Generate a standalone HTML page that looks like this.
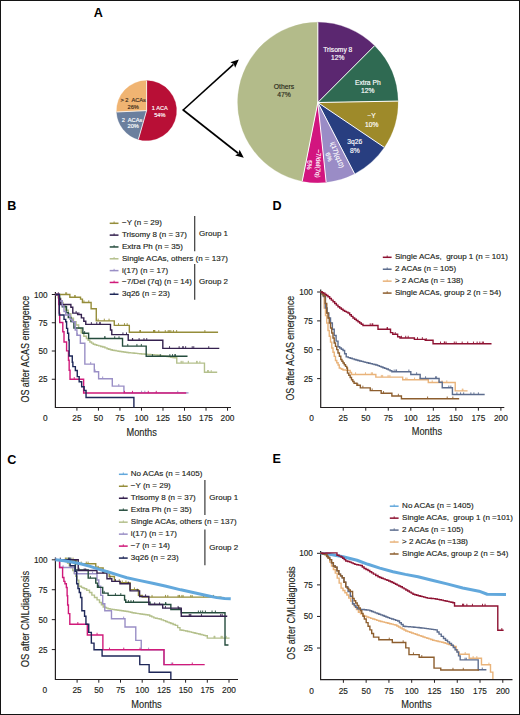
<!DOCTYPE html>
<html><head><meta charset="utf-8"><style>
html,body{margin:0;padding:0;background:#fff;}
body{width:520px;height:715px;overflow:hidden;}
svg{display:block;font-family:"Liberation Sans", sans-serif;}
text{white-space:pre;stroke:currentColor;}
</style></head><body>
<svg width="520" height="715" viewBox="0 0 520 715">
<rect x="0" y="0" width="520" height="715" fill="#fff"/>
<path d="M146.6,110.6 L146.60,80.60 A30,30 0 1 1 138.33,139.44 Z" fill="#b80f36" stroke="#b80f36" stroke-width="0.3"/>
<path d="M146.6,110.6 L138.33,139.44 A30,30 0 0 1 116.63,111.96 Z" fill="#6b7f9e" stroke="#6b7f9e" stroke-width="0.3"/>
<path d="M146.6,110.6 L116.63,111.96 A30,30 0 0 1 146.60,80.60 Z" fill="#f0b472" stroke="#f0b472" stroke-width="0.3"/>
<line x1="146.6" y1="110.6" x2="146.60" y2="80.60" stroke="#fff" stroke-width="0.8"/>
<line x1="146.6" y1="110.6" x2="138.33" y2="139.44" stroke="#fff" stroke-width="0.8"/>
<line x1="146.6" y1="110.6" x2="116.63" y2="111.96" stroke="#fff" stroke-width="0.8"/>
<text x="159.8" y="109.9" font-size="5.6" text-anchor="middle" fill="#fff" color="#fff" stroke-width="0.15" font-weight="normal" >1 ACA</text>
<text x="159.8" y="116.5" font-size="5.6" text-anchor="middle" fill="#fff" color="#fff" stroke-width="0.15" font-weight="normal" >54%</text>
<text x="133.2" y="102.1" font-size="5.7" text-anchor="middle" fill="#3a2a1a" color="#3a2a1a" stroke-width="0.15" font-weight="normal" >&gt; 2  ACAs</text>
<text x="133.2" y="108.5" font-size="5.7" text-anchor="middle" fill="#3a2a1a" color="#3a2a1a" stroke-width="0.15" font-weight="normal" >26%</text>
<text x="132" y="121.8" font-size="5.7" text-anchor="middle" fill="#fff" color="#fff" stroke-width="0.15" font-weight="normal" >2  ACAs</text>
<text x="133.2" y="128" font-size="5.7" text-anchor="middle" fill="#fff" color="#fff" stroke-width="0.15" font-weight="normal" >20%</text>
<path d="M317.8,102.5 L317.80,22.30 A80.2,80.2 0 0 1 374.51,45.79 Z" fill="#5b2770" stroke="#5b2770" stroke-width="0.3"/>
<path d="M317.8,102.5 L374.51,45.79 A80.2,80.2 0 0 1 397.99,101.10 Z" fill="#2f6a52" stroke="#2f6a52" stroke-width="0.3"/>
<path d="M317.8,102.5 L397.99,101.10 A80.2,80.2 0 0 1 384.29,147.35 Z" fill="#9e8a2a" stroke="#9e8a2a" stroke-width="0.3"/>
<path d="M317.8,102.5 L384.29,147.35 A80.2,80.2 0 0 1 354.58,173.77 Z" fill="#283e80" stroke="#283e80" stroke-width="0.3"/>
<path d="M317.8,102.5 L354.58,173.77 A80.2,80.2 0 0 1 326.18,182.26 Z" fill="#9a8cc6" stroke="#9a8cc6" stroke-width="0.3"/>
<path d="M317.8,102.5 L326.18,182.26 A80.2,80.2 0 0 1 302.22,181.17 Z" fill="#d2157f" stroke="#d2157f" stroke-width="0.3"/>
<path d="M317.8,102.5 L302.22,181.17 A80.2,80.2 0 0 1 317.80,22.30 Z" fill="#b3bb8a" stroke="#b3bb8a" stroke-width="0.3"/>
<line x1="317.8" y1="102.5" x2="317.80" y2="22.30" stroke="#fff" stroke-width="1.0"/>
<line x1="317.8" y1="102.5" x2="374.51" y2="45.79" stroke="#fff" stroke-width="1.0"/>
<line x1="317.8" y1="102.5" x2="397.99" y2="101.10" stroke="#fff" stroke-width="1.0"/>
<line x1="317.8" y1="102.5" x2="384.29" y2="147.35" stroke="#fff" stroke-width="1.0"/>
<line x1="317.8" y1="102.5" x2="354.58" y2="173.77" stroke="#fff" stroke-width="1.0"/>
<line x1="317.8" y1="102.5" x2="326.18" y2="182.26" stroke="#fff" stroke-width="1.0"/>
<line x1="317.8" y1="102.5" x2="302.22" y2="181.17" stroke="#fff" stroke-width="1.0"/>
<text x="337.8" y="51.8" font-size="6.7" text-anchor="middle" fill="#fff" color="#fff" stroke-width="0.15" font-weight="normal" >Trisomy 8</text>
<text x="337.8" y="60.1" font-size="6.7" text-anchor="middle" fill="#fff" color="#fff" stroke-width="0.15" font-weight="normal" >12%</text>
<text x="367.8" y="84.8" font-size="6.7" text-anchor="middle" fill="#fff" color="#fff" stroke-width="0.15" font-weight="normal" >Extra Ph</text>
<text x="367.8" y="93" font-size="6.7" text-anchor="middle" fill="#fff" color="#fff" stroke-width="0.15" font-weight="normal" >12%</text>
<text x="371.6" y="118.4" font-size="6.7" text-anchor="middle" fill="#fff" color="#fff" stroke-width="0.15" font-weight="normal" >−Y</text>
<text x="371.8" y="126.6" font-size="6.7" text-anchor="middle" fill="#fff" color="#fff" stroke-width="0.15" font-weight="normal" >10%</text>
<text x="354.8" y="144.4" font-size="6.7" text-anchor="middle" fill="#fff" color="#fff" stroke-width="0.15" font-weight="normal" >3q26</text>
<text x="354.8" y="153.4" font-size="6.7" text-anchor="middle" fill="#fff" color="#fff" stroke-width="0.15" font-weight="normal" >8%</text>
<text x="284" y="89.2" font-size="6.8" text-anchor="middle" fill="#2a2a1a" color="#2a2a1a" stroke-width="0.15" font-weight="normal" >Others</text>
<text x="284" y="96.9" font-size="6.8" text-anchor="middle" fill="#2a2a1a" color="#2a2a1a" stroke-width="0.15" font-weight="normal" >47%</text>
<text transform="translate(337.4,154.8) rotate(69)" font-size="6.3" text-anchor="middle" dominant-baseline="central" fill="#fff" color="#fff" stroke-width="0.15">i(17)(q10)</text>
<text transform="translate(329.2,156.8) rotate(69)" font-size="6.3" text-anchor="middle" dominant-baseline="central" fill="#fff" color="#fff" stroke-width="0.15">6%</text>
<text transform="translate(318.6,163.5) rotate(92)" font-size="6.3" text-anchor="middle" dominant-baseline="central" fill="#fff" color="#fff" stroke-width="0.15">−7/del(7q)</text>
<text transform="translate(309.8,165) rotate(92)" font-size="6.3" text-anchor="middle" dominant-baseline="central" fill="#fff" color="#fff" stroke-width="0.15">5%</text>
<line x1="183.2" y1="110" x2="233.47" y2="64.34" stroke="#000" stroke-width="1.6"/>
<path d="M238.8,59.5 L235.15,67.68 L233.84,64.00 L230.31,62.35 Z" fill="#000"/>
<line x1="183.2" y1="110" x2="238.14" y2="153.25" stroke="#000" stroke-width="1.6"/>
<path d="M243.8,157.7 L235.13,155.46 L238.54,153.56 L239.58,149.80 Z" fill="#000"/>
<polyline points="183.8,110.4 183.2,110 183.8,109.6" fill="none" stroke="#000" stroke-width="1.5"/>
<path d="M55.4,292.10 L55.4,407.5 L231,407.5" fill="none" stroke="#231f20" stroke-width="1.2"/>
<line x1="51.80" y1="379.25" x2="55.4" y2="379.25" stroke="#231f20" stroke-width="1"/>
<text x="47.60" y="382.25" font-size="8.2" text-anchor="end" fill="#231f20" color="#231f20" stroke-width="0.15" font-weight="normal" >25</text>
<line x1="51.80" y1="351.00" x2="55.4" y2="351.00" stroke="#231f20" stroke-width="1"/>
<text x="47.60" y="354.00" font-size="8.2" text-anchor="end" fill="#231f20" color="#231f20" stroke-width="0.15" font-weight="normal" >50</text>
<line x1="51.80" y1="322.75" x2="55.4" y2="322.75" stroke="#231f20" stroke-width="1"/>
<text x="47.60" y="325.75" font-size="8.2" text-anchor="end" fill="#231f20" color="#231f20" stroke-width="0.15" font-weight="normal" >75</text>
<line x1="51.80" y1="294.50" x2="55.4" y2="294.50" stroke="#231f20" stroke-width="1"/>
<text x="47.60" y="297.50" font-size="8.2" text-anchor="end" fill="#231f20" color="#231f20" stroke-width="0.15" font-weight="normal" >100</text>
<line x1="76.92" y1="407.5" x2="76.92" y2="410.70" stroke="#231f20" stroke-width="1"/>
<text x="76.92" y="421.40" font-size="8.3" text-anchor="middle" fill="#231f20" color="#231f20" stroke-width="0.15" font-weight="normal" >25</text>
<line x1="98.44" y1="407.5" x2="98.44" y2="410.70" stroke="#231f20" stroke-width="1"/>
<text x="98.44" y="421.40" font-size="8.3" text-anchor="middle" fill="#231f20" color="#231f20" stroke-width="0.15" font-weight="normal" >50</text>
<line x1="119.95" y1="407.5" x2="119.95" y2="410.70" stroke="#231f20" stroke-width="1"/>
<text x="119.95" y="421.40" font-size="8.3" text-anchor="middle" fill="#231f20" color="#231f20" stroke-width="0.15" font-weight="normal" >75</text>
<line x1="141.47" y1="407.5" x2="141.47" y2="410.70" stroke="#231f20" stroke-width="1"/>
<text x="141.47" y="421.40" font-size="8.3" text-anchor="middle" fill="#231f20" color="#231f20" stroke-width="0.15" font-weight="normal" >100</text>
<line x1="162.99" y1="407.5" x2="162.99" y2="410.70" stroke="#231f20" stroke-width="1"/>
<text x="162.99" y="421.40" font-size="8.3" text-anchor="middle" fill="#231f20" color="#231f20" stroke-width="0.15" font-weight="normal" >125</text>
<line x1="184.50" y1="407.5" x2="184.50" y2="410.70" stroke="#231f20" stroke-width="1"/>
<text x="184.50" y="421.40" font-size="8.3" text-anchor="middle" fill="#231f20" color="#231f20" stroke-width="0.15" font-weight="normal" >150</text>
<line x1="206.02" y1="407.5" x2="206.02" y2="410.70" stroke="#231f20" stroke-width="1"/>
<text x="206.02" y="421.40" font-size="8.3" text-anchor="middle" fill="#231f20" color="#231f20" stroke-width="0.15" font-weight="normal" >175</text>
<line x1="227.54" y1="407.5" x2="227.54" y2="410.70" stroke="#231f20" stroke-width="1"/>
<text x="227.54" y="421.40" font-size="8.3" text-anchor="middle" fill="#231f20" color="#231f20" stroke-width="0.15" font-weight="normal" >200</text>
<text x="45.20" y="421.40" font-size="8.3" text-anchor="middle" fill="#231f20" color="#231f20" stroke-width="0.15" font-weight="normal" >0</text>
<text x="141.65" y="435.6" font-size="10.4" text-anchor="middle" fill="#231f20" color="#231f20" stroke-width="0.15" font-weight="normal" textLength="30.3" lengthAdjust="spacingAndGlyphs">Months</text>
<text transform="translate(28.7,349.2) rotate(-90)" font-size="10.5" text-anchor="middle" fill="#231f20" color="#231f20" stroke-width="0.15" textLength="106.7" lengthAdjust="spacingAndGlyphs">OS after ACAS emergence</text>
<line x1="109.7" y1="223.30" x2="118.50" y2="223.30" stroke="#958d3a" stroke-width="1.5"/>
<line x1="114.10" y1="221.50" x2="114.10" y2="223.30" stroke="#958d3a" stroke-width="0.9"/>
<text x="122" y="225.20" font-size="8.02" text-anchor="start" fill="#231f20" color="#231f20" stroke-width="0.15" font-weight="normal" >−Y (n = 29)</text>
<line x1="109.7" y1="235.13" x2="118.50" y2="235.13" stroke="#35214f" stroke-width="1.5"/>
<line x1="114.10" y1="233.33" x2="114.10" y2="235.13" stroke="#35214f" stroke-width="0.9"/>
<text x="122" y="237.03" font-size="8.02" text-anchor="start" fill="#231f20" color="#231f20" stroke-width="0.15" font-weight="normal" >Trisomy 8 (n = 37)</text>
<line x1="109.7" y1="246.96" x2="118.50" y2="246.96" stroke="#254c3d" stroke-width="1.5"/>
<line x1="114.10" y1="245.16" x2="114.10" y2="246.96" stroke="#254c3d" stroke-width="0.9"/>
<text x="122" y="248.86" font-size="8.02" text-anchor="start" fill="#231f20" color="#231f20" stroke-width="0.15" font-weight="normal" >Extra Ph (n = 35)</text>
<line x1="109.7" y1="258.79" x2="118.50" y2="258.79" stroke="#b4c08c" stroke-width="1.5"/>
<line x1="114.10" y1="256.99" x2="114.10" y2="258.79" stroke="#b4c08c" stroke-width="0.9"/>
<text x="122" y="260.69" font-size="8.02" text-anchor="start" fill="#231f20" color="#231f20" stroke-width="0.15" font-weight="normal" >Single ACAs, others (n = 137)</text>
<line x1="109.7" y1="270.62" x2="118.50" y2="270.62" stroke="#9a8fc6" stroke-width="1.5"/>
<line x1="114.10" y1="268.82" x2="114.10" y2="270.62" stroke="#9a8fc6" stroke-width="0.9"/>
<text x="122" y="272.52" font-size="8.02" text-anchor="start" fill="#231f20" color="#231f20" stroke-width="0.15" font-weight="normal" >i(17) (n = 17)</text>
<line x1="109.7" y1="282.45" x2="118.50" y2="282.45" stroke="#d01a7a" stroke-width="1.5"/>
<line x1="114.10" y1="280.65" x2="114.10" y2="282.45" stroke="#d01a7a" stroke-width="0.9"/>
<text x="122" y="284.35" font-size="8.02" text-anchor="start" fill="#231f20" color="#231f20" stroke-width="0.15" font-weight="normal" >−7/Del (7q) (n = 14)</text>
<line x1="109.7" y1="294.28" x2="118.50" y2="294.28" stroke="#1e2758" stroke-width="1.5"/>
<line x1="114.10" y1="292.48" x2="114.10" y2="294.28" stroke="#1e2758" stroke-width="0.9"/>
<text x="122" y="296.18" font-size="8.02" text-anchor="start" fill="#231f20" color="#231f20" stroke-width="0.15" font-weight="normal" >3q26 (n = 23)</text>
<line x1="194.7" y1="216" x2="194.7" y2="251.3" stroke="#3a3a3a" stroke-width="1.2"/>
<text x="199.1" y="235.9" font-size="8.0" text-anchor="start" fill="#231f20" color="#231f20" stroke-width="0.15" font-weight="normal" >Group 1</text>
<line x1="194.7" y1="264" x2="194.7" y2="299.7" stroke="#3a3a3a" stroke-width="1.2"/>
<text x="199.1" y="283.6" font-size="8.0" text-anchor="start" fill="#231f20" color="#231f20" stroke-width="0.15" font-weight="normal" >Group 2</text>
<path d="M55.40,294.50 L57.98,294.50 L57.98,297.89 L60.56,297.89 L60.56,302.41 L63.15,302.41 L63.15,305.80 L65.73,305.80 L65.73,310.32 L68.31,310.32 L68.31,313.71 L70.89,313.71 L70.89,318.23 L73.47,318.23 L73.47,321.62 L76.06,321.62 L76.06,325.01 L78.64,325.01 L78.64,328.40 L81.22,328.40 L81.22,332.92 L83.80,332.92 L83.80,336.31 L86.39,336.31 L86.39,338.57 L88.11,338.57 L88.11,340.26 L89.83,340.26 L89.83,341.96 L91.55,341.96 L91.55,343.09 L93.27,343.09 L93.27,344.22 L94.99,344.22 L94.99,344.79 L96.71,344.79 L96.71,345.35 L98.72,345.35 L98.72,345.92 L100.73,345.92 L100.73,346.48 L102.74,346.48 L102.74,347.05 L104.89,347.05 L104.89,347.89 L107.04,347.89 L107.04,348.74 L108.76,348.74 L108.76,349.23 L110.48,349.23 L110.48,349.72 L112.21,349.72 L112.21,350.21 L114.14,350.21 L114.14,350.55 L116.08,350.55 L116.08,350.89 L118.02,350.89 L118.02,351.23 L119.95,351.23 L119.95,351.56 L121.67,351.56 L121.67,351.79 L123.40,351.79 L123.40,352.02 L125.12,352.02 L125.12,352.24 L126.84,352.24 L126.84,352.47 L128.56,352.47 L128.56,352.69 L130.40,352.69 L130.40,352.87 L132.25,352.87 L132.25,353.05 L134.09,353.05 L134.09,353.23 L135.94,353.23 L135.94,353.41 L137.78,353.41 L137.78,353.58 L139.63,353.58 L139.63,353.76 L141.47,353.76 L141.47,353.94 L143.31,353.94 L143.31,354.07 L145.16,354.07 L145.16,354.20 L147.00,354.20 L147.00,354.33 L148.85,354.33 L148.85,354.45 L150.69,354.45 L150.69,354.58 L152.54,354.58 L152.54,354.71 L154.38,354.71 L154.38,354.84 L156.10,354.84 L156.10,355.07 L157.82,355.07 L157.82,355.29 L159.54,355.29 L159.54,355.52 L161.27,355.52 L161.27,355.75 L162.99,355.75 L162.99,355.97 L165.00,355.97 L165.00,356.27 L167.00,356.27 L167.00,356.57 L169.01,356.57 L169.01,356.88 L170.73,356.88 L170.73,357.18 L172.46,357.18 L172.46,357.48 L174.18,357.48 L174.18,357.78 L176.76,357.78 L176.76,363.09 L204.47,363.09 L204.47,372.24 L217.21,372.24" fill="none" stroke="#b4c08c" stroke-width="1.4" stroke-linejoin="miter"/>
<line x1="181.82" y1="360.89" x2="181.82" y2="363.09" stroke="#b4c08c" stroke-width="0.9"/>
<line x1="188.31" y1="360.89" x2="188.31" y2="363.09" stroke="#b4c08c" stroke-width="0.9"/>
<line x1="182.97" y1="360.89" x2="182.97" y2="363.09" stroke="#b4c08c" stroke-width="0.9"/>
<line x1="181.00" y1="360.89" x2="181.00" y2="363.09" stroke="#b4c08c" stroke-width="0.9"/>
<line x1="188.43" y1="360.89" x2="188.43" y2="363.09" stroke="#b4c08c" stroke-width="0.9"/>
<line x1="199.88" y1="360.89" x2="199.88" y2="363.09" stroke="#b4c08c" stroke-width="0.9"/>
<line x1="197.28" y1="360.89" x2="197.28" y2="363.09" stroke="#b4c08c" stroke-width="0.9"/>
<line x1="196.50" y1="360.89" x2="196.50" y2="363.09" stroke="#b4c08c" stroke-width="0.9"/>
<line x1="211.22" y1="370.04" x2="211.22" y2="372.24" stroke="#b4c08c" stroke-width="0.9"/>
<line x1="208.57" y1="370.04" x2="208.57" y2="372.24" stroke="#b4c08c" stroke-width="0.9"/>
<line x1="207.51" y1="370.04" x2="207.51" y2="372.24" stroke="#b4c08c" stroke-width="0.9"/>
<path d="M55.40,294.50 L59.70,294.50 L59.70,301.28 L62.29,301.28 L62.29,306.82 L66.50,306.82 L66.50,312.58 L68.31,312.58 L68.31,317.44 L70.89,317.44 L70.89,321.62 L73.91,321.62 L73.91,327.95 L82.86,327.95 L82.86,333.26 L88.62,333.26 L88.62,338.46 L122.53,338.46 L122.53,346.14 L146.20,346.14 L146.20,356.31 L187.52,356.31" fill="none" stroke="#254c3d" stroke-width="1.4" stroke-linejoin="miter"/>
<line x1="63.96" y1="304.62" x2="63.96" y2="306.82" stroke="#254c3d" stroke-width="0.9"/>
<line x1="72.70" y1="319.42" x2="72.70" y2="321.62" stroke="#254c3d" stroke-width="0.9"/>
<line x1="74.89" y1="325.75" x2="74.89" y2="327.95" stroke="#254c3d" stroke-width="0.9"/>
<line x1="84.63" y1="331.06" x2="84.63" y2="333.26" stroke="#254c3d" stroke-width="0.9"/>
<line x1="119.03" y1="336.26" x2="119.03" y2="338.46" stroke="#254c3d" stroke-width="0.9"/>
<line x1="104.77" y1="336.26" x2="104.77" y2="338.46" stroke="#254c3d" stroke-width="0.9"/>
<line x1="114.71" y1="336.26" x2="114.71" y2="338.46" stroke="#254c3d" stroke-width="0.9"/>
<line x1="104.94" y1="336.26" x2="104.94" y2="338.46" stroke="#254c3d" stroke-width="0.9"/>
<line x1="127.75" y1="343.94" x2="127.75" y2="346.14" stroke="#254c3d" stroke-width="0.9"/>
<line x1="136.92" y1="343.94" x2="136.92" y2="346.14" stroke="#254c3d" stroke-width="0.9"/>
<line x1="141.34" y1="343.94" x2="141.34" y2="346.14" stroke="#254c3d" stroke-width="0.9"/>
<line x1="174.83" y1="354.11" x2="174.83" y2="356.31" stroke="#254c3d" stroke-width="0.9"/>
<line x1="172.53" y1="354.11" x2="172.53" y2="356.31" stroke="#254c3d" stroke-width="0.9"/>
<line x1="152.45" y1="354.11" x2="152.45" y2="356.31" stroke="#254c3d" stroke-width="0.9"/>
<line x1="175.40" y1="354.11" x2="175.40" y2="356.31" stroke="#254c3d" stroke-width="0.9"/>
<line x1="169.87" y1="354.11" x2="169.87" y2="356.31" stroke="#254c3d" stroke-width="0.9"/>
<line x1="160.29" y1="354.11" x2="160.29" y2="356.31" stroke="#254c3d" stroke-width="0.9"/>
<path d="M55.40,294.50 L69.86,294.50 L69.86,297.21 L80.53,297.21 L80.53,299.13 L82.43,299.13 L82.43,302.52 L91.12,302.52 L91.12,308.74 L96.28,308.74 L96.28,320.83 L114.27,320.83 L114.27,325.35 L129.33,325.35 L129.33,332.24 L218.07,332.24" fill="none" stroke="#958d3a" stroke-width="1.4" stroke-linejoin="miter"/>
<line x1="66.65" y1="292.30" x2="66.65" y2="294.50" stroke="#958d3a" stroke-width="0.9"/>
<line x1="65.68" y1="292.30" x2="65.68" y2="294.50" stroke="#958d3a" stroke-width="0.9"/>
<line x1="75.16" y1="295.01" x2="75.16" y2="297.21" stroke="#958d3a" stroke-width="0.9"/>
<line x1="74.76" y1="295.01" x2="74.76" y2="297.21" stroke="#958d3a" stroke-width="0.9"/>
<line x1="88.78" y1="300.32" x2="88.78" y2="302.52" stroke="#958d3a" stroke-width="0.9"/>
<line x1="83.95" y1="300.32" x2="83.95" y2="302.52" stroke="#958d3a" stroke-width="0.9"/>
<line x1="104.31" y1="318.63" x2="104.31" y2="320.83" stroke="#958d3a" stroke-width="0.9"/>
<line x1="109.05" y1="318.63" x2="109.05" y2="320.83" stroke="#958d3a" stroke-width="0.9"/>
<line x1="98.11" y1="318.63" x2="98.11" y2="320.83" stroke="#958d3a" stroke-width="0.9"/>
<line x1="124.47" y1="323.15" x2="124.47" y2="325.35" stroke="#958d3a" stroke-width="0.9"/>
<line x1="118.53" y1="323.15" x2="118.53" y2="325.35" stroke="#958d3a" stroke-width="0.9"/>
<line x1="127.17" y1="323.15" x2="127.17" y2="325.35" stroke="#958d3a" stroke-width="0.9"/>
<line x1="140.38" y1="330.04" x2="140.38" y2="332.24" stroke="#958d3a" stroke-width="0.9"/>
<line x1="140.01" y1="330.04" x2="140.01" y2="332.24" stroke="#958d3a" stroke-width="0.9"/>
<line x1="176.64" y1="330.04" x2="176.64" y2="332.24" stroke="#958d3a" stroke-width="0.9"/>
<line x1="204.88" y1="330.04" x2="204.88" y2="332.24" stroke="#958d3a" stroke-width="0.9"/>
<line x1="165.27" y1="330.04" x2="165.27" y2="332.24" stroke="#958d3a" stroke-width="0.9"/>
<line x1="153.58" y1="330.04" x2="153.58" y2="332.24" stroke="#958d3a" stroke-width="0.9"/>
<line x1="168.17" y1="330.04" x2="168.17" y2="332.24" stroke="#958d3a" stroke-width="0.9"/>
<line x1="140.27" y1="330.04" x2="140.27" y2="332.24" stroke="#958d3a" stroke-width="0.9"/>
<line x1="153.95" y1="330.04" x2="153.95" y2="332.24" stroke="#958d3a" stroke-width="0.9"/>
<line x1="169.29" y1="330.04" x2="169.29" y2="332.24" stroke="#958d3a" stroke-width="0.9"/>
<line x1="173.41" y1="330.04" x2="173.41" y2="332.24" stroke="#958d3a" stroke-width="0.9"/>
<line x1="154.75" y1="330.04" x2="154.75" y2="332.24" stroke="#958d3a" stroke-width="0.9"/>
<line x1="154.60" y1="330.04" x2="154.60" y2="332.24" stroke="#958d3a" stroke-width="0.9"/>
<line x1="153.74" y1="330.04" x2="153.74" y2="332.24" stroke="#958d3a" stroke-width="0.9"/>
<line x1="170.84" y1="330.04" x2="170.84" y2="332.24" stroke="#958d3a" stroke-width="0.9"/>
<line x1="158.78" y1="330.04" x2="158.78" y2="332.24" stroke="#958d3a" stroke-width="0.9"/>
<path d="M55.40,294.50 L58.84,294.50 L58.84,299.02 L60.56,299.02 L60.56,304.44 L70.89,304.44 L70.89,307.27 L72.79,307.27 L72.79,313.14 L77.61,313.14 L77.61,314.50 L81.39,314.50 L81.39,317.89 L83.80,317.89 L83.80,321.28 L85.78,321.28 L85.78,324.33 L110.48,324.33 L110.48,329.98 L111.78,329.98 L111.78,334.62 L128.22,334.62 L128.22,340.26 L162.82,340.26 L162.82,348.40 L219.28,348.40" fill="none" stroke="#35214f" stroke-width="1.4" stroke-linejoin="miter"/>
<line x1="58.35" y1="292.30" x2="58.35" y2="294.50" stroke="#35214f" stroke-width="0.9"/>
<line x1="62.30" y1="302.24" x2="62.30" y2="304.44" stroke="#35214f" stroke-width="0.9"/>
<line x1="76.11" y1="310.94" x2="76.11" y2="313.14" stroke="#35214f" stroke-width="0.9"/>
<line x1="78.92" y1="312.30" x2="78.92" y2="314.50" stroke="#35214f" stroke-width="0.9"/>
<line x1="100.24" y1="322.13" x2="100.24" y2="324.33" stroke="#35214f" stroke-width="0.9"/>
<line x1="99.74" y1="322.13" x2="99.74" y2="324.33" stroke="#35214f" stroke-width="0.9"/>
<line x1="91.38" y1="322.13" x2="91.38" y2="324.33" stroke="#35214f" stroke-width="0.9"/>
<line x1="96.76" y1="322.13" x2="96.76" y2="324.33" stroke="#35214f" stroke-width="0.9"/>
<line x1="122.93" y1="332.42" x2="122.93" y2="334.62" stroke="#35214f" stroke-width="0.9"/>
<line x1="126.50" y1="332.42" x2="126.50" y2="334.62" stroke="#35214f" stroke-width="0.9"/>
<line x1="146.74" y1="338.06" x2="146.74" y2="340.26" stroke="#35214f" stroke-width="0.9"/>
<line x1="143.99" y1="338.06" x2="143.99" y2="340.26" stroke="#35214f" stroke-width="0.9"/>
<line x1="139.10" y1="338.06" x2="139.10" y2="340.26" stroke="#35214f" stroke-width="0.9"/>
<line x1="132.67" y1="338.06" x2="132.67" y2="340.26" stroke="#35214f" stroke-width="0.9"/>
<line x1="132.43" y1="338.06" x2="132.43" y2="340.26" stroke="#35214f" stroke-width="0.9"/>
<line x1="182.85" y1="346.20" x2="182.85" y2="348.40" stroke="#35214f" stroke-width="0.9"/>
<line x1="185.63" y1="346.20" x2="185.63" y2="348.40" stroke="#35214f" stroke-width="0.9"/>
<line x1="208.74" y1="346.20" x2="208.74" y2="348.40" stroke="#35214f" stroke-width="0.9"/>
<line x1="192.21" y1="346.20" x2="192.21" y2="348.40" stroke="#35214f" stroke-width="0.9"/>
<line x1="193.78" y1="346.20" x2="193.78" y2="348.40" stroke="#35214f" stroke-width="0.9"/>
<line x1="179.13" y1="346.20" x2="179.13" y2="348.40" stroke="#35214f" stroke-width="0.9"/>
<line x1="169.54" y1="346.20" x2="169.54" y2="348.40" stroke="#35214f" stroke-width="0.9"/>
<line x1="183.15" y1="346.20" x2="183.15" y2="348.40" stroke="#35214f" stroke-width="0.9"/>
<path d="M55.40,294.50 L58.84,294.50 L58.84,300.94 L62.29,300.94 L62.29,305.91 L64.01,305.91 L64.01,311.45 L65.73,311.45 L65.73,314.95 L70.03,314.95 L70.03,319.36 L72.27,319.36 L72.27,321.73 L75.20,321.73 L75.20,329.98 L76.92,329.98 L76.92,335.18 L80.36,335.18 L80.36,343.32 L84.84,343.32 L84.84,364.11 L94.30,364.11 L94.30,371.68 L98.61,371.68 L98.61,378.69 L112.29,378.69 L112.29,386.14 L123.91,386.14 L123.91,392.92 L188.55,392.92" fill="none" stroke="#9a8fc6" stroke-width="1.4" stroke-linejoin="miter"/>
<line x1="69.40" y1="312.75" x2="69.40" y2="314.95" stroke="#9a8fc6" stroke-width="0.9"/>
<line x1="77.34" y1="332.98" x2="77.34" y2="335.18" stroke="#9a8fc6" stroke-width="0.9"/>
<line x1="90.70" y1="361.91" x2="90.70" y2="364.11" stroke="#9a8fc6" stroke-width="0.9"/>
<line x1="95.12" y1="369.48" x2="95.12" y2="371.68" stroke="#9a8fc6" stroke-width="0.9"/>
<line x1="102.68" y1="376.49" x2="102.68" y2="378.69" stroke="#9a8fc6" stroke-width="0.9"/>
<line x1="118.79" y1="383.94" x2="118.79" y2="386.14" stroke="#9a8fc6" stroke-width="0.9"/>
<line x1="141.58" y1="390.72" x2="141.58" y2="392.92" stroke="#9a8fc6" stroke-width="0.9"/>
<line x1="144.83" y1="390.72" x2="144.83" y2="392.92" stroke="#9a8fc6" stroke-width="0.9"/>
<line x1="177.76" y1="390.72" x2="177.76" y2="392.92" stroke="#9a8fc6" stroke-width="0.9"/>
<path d="M55.40,294.50 L58.76,294.50 L58.76,304.67 L59.27,304.67 L59.27,313.14 L59.70,313.14 L59.70,322.52 L62.80,322.52 L62.80,331.79 L64.01,331.79 L64.01,341.96 L66.59,341.96 L66.59,350.89 L68.48,350.89 L68.48,360.27 L69.17,360.27 L69.17,370.21 L70.03,370.21 L70.03,379.25 L83.63,379.25 L83.63,393.04 L186.23,393.04" fill="none" stroke="#d01a7a" stroke-width="1.4" stroke-linejoin="miter"/>
<line x1="74.24" y1="377.05" x2="74.24" y2="379.25" stroke="#d01a7a" stroke-width="0.9"/>
<line x1="148.29" y1="390.84" x2="148.29" y2="393.04" stroke="#d01a7a" stroke-width="0.9"/>
<line x1="132.49" y1="390.84" x2="132.49" y2="393.04" stroke="#d01a7a" stroke-width="0.9"/>
<line x1="156.25" y1="390.84" x2="156.25" y2="393.04" stroke="#d01a7a" stroke-width="0.9"/>
<line x1="124.52" y1="390.84" x2="124.52" y2="393.04" stroke="#d01a7a" stroke-width="0.9"/>
<path d="M55.40,294.50 L59.27,294.50 L59.27,314.95 L64.01,314.95 L64.01,319.36 L65.73,319.36 L65.73,321.73 L66.59,321.73 L66.59,328.40 L67.62,328.40 L67.62,333.26 L68.65,333.26 L68.65,340.04 L69.17,340.04 L69.17,355.97 L72.27,355.97 L72.27,362.30 L72.87,362.30 L72.87,366.59 L75.37,366.59 L75.37,370.44 L77.26,370.44 L77.26,376.65 L79.16,376.65 L79.16,381.74 L81.65,381.74 L81.65,386.82 L84.15,386.82 L84.15,390.55 L86.04,390.55 L86.04,397.50 L133.90,397.50 L133.90,407.50" fill="none" stroke="#1e2758" stroke-width="1.4" stroke-linejoin="miter"/>
<path d="M55.4,557.40 L55.4,679.5 L238,679.5" fill="none" stroke="#231f20" stroke-width="1.2"/>
<line x1="51.80" y1="649.58" x2="55.4" y2="649.58" stroke="#231f20" stroke-width="1"/>
<text x="47.60" y="652.58" font-size="8.2" text-anchor="end" fill="#231f20" color="#231f20" stroke-width="0.15" font-weight="normal" >25</text>
<line x1="51.80" y1="619.65" x2="55.4" y2="619.65" stroke="#231f20" stroke-width="1"/>
<text x="47.60" y="622.65" font-size="8.2" text-anchor="end" fill="#231f20" color="#231f20" stroke-width="0.15" font-weight="normal" >50</text>
<line x1="51.80" y1="589.73" x2="55.4" y2="589.73" stroke="#231f20" stroke-width="1"/>
<text x="47.60" y="592.73" font-size="8.2" text-anchor="end" fill="#231f20" color="#231f20" stroke-width="0.15" font-weight="normal" >75</text>
<line x1="51.80" y1="559.80" x2="55.4" y2="559.80" stroke="#231f20" stroke-width="1"/>
<text x="47.60" y="562.80" font-size="8.2" text-anchor="end" fill="#231f20" color="#231f20" stroke-width="0.15" font-weight="normal" >100</text>
<line x1="77.10" y1="679.5" x2="77.10" y2="682.70" stroke="#231f20" stroke-width="1"/>
<text x="77.10" y="693.40" font-size="8.3" text-anchor="middle" fill="#231f20" color="#231f20" stroke-width="0.15" font-weight="normal" >25</text>
<line x1="98.80" y1="679.5" x2="98.80" y2="682.70" stroke="#231f20" stroke-width="1"/>
<text x="98.80" y="693.40" font-size="8.3" text-anchor="middle" fill="#231f20" color="#231f20" stroke-width="0.15" font-weight="normal" >50</text>
<line x1="120.50" y1="679.5" x2="120.50" y2="682.70" stroke="#231f20" stroke-width="1"/>
<text x="120.50" y="693.40" font-size="8.3" text-anchor="middle" fill="#231f20" color="#231f20" stroke-width="0.15" font-weight="normal" >75</text>
<line x1="142.20" y1="679.5" x2="142.20" y2="682.70" stroke="#231f20" stroke-width="1"/>
<text x="142.20" y="693.40" font-size="8.3" text-anchor="middle" fill="#231f20" color="#231f20" stroke-width="0.15" font-weight="normal" >100</text>
<line x1="163.90" y1="679.5" x2="163.90" y2="682.70" stroke="#231f20" stroke-width="1"/>
<text x="163.90" y="693.40" font-size="8.3" text-anchor="middle" fill="#231f20" color="#231f20" stroke-width="0.15" font-weight="normal" >125</text>
<line x1="185.60" y1="679.5" x2="185.60" y2="682.70" stroke="#231f20" stroke-width="1"/>
<text x="185.60" y="693.40" font-size="8.3" text-anchor="middle" fill="#231f20" color="#231f20" stroke-width="0.15" font-weight="normal" >150</text>
<line x1="207.30" y1="679.5" x2="207.30" y2="682.70" stroke="#231f20" stroke-width="1"/>
<text x="207.30" y="693.40" font-size="8.3" text-anchor="middle" fill="#231f20" color="#231f20" stroke-width="0.15" font-weight="normal" >175</text>
<line x1="229.00" y1="679.5" x2="229.00" y2="682.70" stroke="#231f20" stroke-width="1"/>
<text x="229.00" y="693.40" font-size="8.3" text-anchor="middle" fill="#231f20" color="#231f20" stroke-width="0.15" font-weight="normal" >200</text>
<text x="44.80" y="693.40" font-size="8.3" text-anchor="middle" fill="#231f20" color="#231f20" stroke-width="0.15" font-weight="normal" >0</text>
<text x="146.5" y="707.7" font-size="10.4" text-anchor="middle" fill="#231f20" color="#231f20" stroke-width="0.15" font-weight="normal" textLength="30.3" lengthAdjust="spacingAndGlyphs">Months</text>
<text transform="translate(28.7,619.1) rotate(-90)" font-size="10.5" text-anchor="middle" fill="#231f20" color="#231f20" stroke-width="0.15" textLength="96.4" lengthAdjust="spacingAndGlyphs">OS after CMLdiagnosis</text>
<line x1="118.9" y1="474.30" x2="127.70" y2="474.30" stroke="#62a8dc" stroke-width="1.5"/>
<line x1="123.30" y1="472.50" x2="123.30" y2="474.30" stroke="#62a8dc" stroke-width="0.9"/>
<text x="130.8" y="476.20" font-size="8.02" text-anchor="start" fill="#231f20" color="#231f20" stroke-width="0.15" font-weight="normal" >No ACAs (n = 1405)</text>
<line x1="118.9" y1="486.27" x2="127.70" y2="486.27" stroke="#958d3a" stroke-width="1.5"/>
<line x1="123.30" y1="484.47" x2="123.30" y2="486.27" stroke="#958d3a" stroke-width="0.9"/>
<text x="130.8" y="488.17" font-size="8.02" text-anchor="start" fill="#231f20" color="#231f20" stroke-width="0.15" font-weight="normal" >−Y (n = 29)</text>
<line x1="118.9" y1="498.24" x2="127.70" y2="498.24" stroke="#35214f" stroke-width="1.5"/>
<line x1="123.30" y1="496.44" x2="123.30" y2="498.24" stroke="#35214f" stroke-width="0.9"/>
<text x="130.8" y="500.14" font-size="8.02" text-anchor="start" fill="#231f20" color="#231f20" stroke-width="0.15" font-weight="normal" >Trisomy 8 (n = 37)</text>
<line x1="118.9" y1="510.21" x2="127.70" y2="510.21" stroke="#254c3d" stroke-width="1.5"/>
<line x1="123.30" y1="508.41" x2="123.30" y2="510.21" stroke="#254c3d" stroke-width="0.9"/>
<text x="130.8" y="512.11" font-size="8.02" text-anchor="start" fill="#231f20" color="#231f20" stroke-width="0.15" font-weight="normal" >Extra Ph (n = 35)</text>
<line x1="118.9" y1="522.18" x2="127.70" y2="522.18" stroke="#b4c08c" stroke-width="1.5"/>
<line x1="123.30" y1="520.38" x2="123.30" y2="522.18" stroke="#b4c08c" stroke-width="0.9"/>
<text x="130.8" y="524.08" font-size="8.02" text-anchor="start" fill="#231f20" color="#231f20" stroke-width="0.15" font-weight="normal" >Single ACAs, others (n = 137)</text>
<line x1="118.9" y1="534.15" x2="127.70" y2="534.15" stroke="#9a8fc6" stroke-width="1.5"/>
<line x1="123.30" y1="532.35" x2="123.30" y2="534.15" stroke="#9a8fc6" stroke-width="0.9"/>
<text x="130.8" y="536.05" font-size="8.02" text-anchor="start" fill="#231f20" color="#231f20" stroke-width="0.15" font-weight="normal" >i(17) (n = 17)</text>
<line x1="118.9" y1="546.12" x2="127.70" y2="546.12" stroke="#d01a7a" stroke-width="1.5"/>
<line x1="123.30" y1="544.32" x2="123.30" y2="546.12" stroke="#d01a7a" stroke-width="0.9"/>
<text x="130.8" y="548.02" font-size="8.02" text-anchor="start" fill="#231f20" color="#231f20" stroke-width="0.15" font-weight="normal" >−7 (n = 14)</text>
<line x1="118.9" y1="558.09" x2="127.70" y2="558.09" stroke="#1e2758" stroke-width="1.5"/>
<line x1="123.30" y1="556.29" x2="123.30" y2="558.09" stroke="#1e2758" stroke-width="0.9"/>
<text x="130.8" y="559.99" font-size="8.02" text-anchor="start" fill="#231f20" color="#231f20" stroke-width="0.15" font-weight="normal" >3q26 (n = 23)</text>
<line x1="204.9" y1="480" x2="204.9" y2="515" stroke="#3a3a3a" stroke-width="1.2"/>
<text x="209.3" y="500.2" font-size="8.0" text-anchor="start" fill="#231f20" color="#231f20" stroke-width="0.15" font-weight="normal" >Group 1</text>
<line x1="204.9" y1="529.5" x2="204.9" y2="565.2" stroke="#3a3a3a" stroke-width="1.2"/>
<text x="209.3" y="549.7" font-size="8.0" text-anchor="start" fill="#231f20" color="#231f20" stroke-width="0.15" font-weight="normal" >Group 2</text>
<path d="M55.40,559.80 L57.22,559.80 L57.22,559.80 L59.05,559.80 L59.05,559.80 L60.87,559.80 L60.87,559.80 L62.69,559.80 L62.69,559.80 L64.51,559.80 L64.51,559.80 L65.82,559.80 L65.82,561.60 L67.55,561.60 L67.55,563.39 L69.29,563.39 L69.29,565.78 L70.76,565.78 L70.76,567.46 L72.76,567.46 L72.76,570.57 L74.24,570.57 L74.24,573.39 L75.71,573.39 L75.71,576.20 L77.10,576.20 L77.10,580.15 L78.84,580.15 L78.84,586.25 L81.44,586.25 L81.44,587.33 L82.96,587.33 L82.96,588.05 L84.48,588.05 L84.48,588.77 L86.65,588.77 L86.65,590.32 L89.51,590.32 L89.51,592.48 L91.86,592.48 L91.86,595.11 L94.46,595.11 L94.46,597.51 L97.06,597.51 L97.06,599.90 L99.49,599.90 L99.49,602.53 L101.40,602.53 L101.40,604.69 L103.23,604.69 L103.23,606.96 L104.85,606.96 L104.85,607.56 L106.47,607.56 L106.47,608.16 L108.09,608.16 L108.09,608.76 L110.11,608.76 L110.11,609.09 L112.12,609.09 L112.12,609.42 L114.14,609.42 L114.14,609.74 L116.16,609.74 L116.16,610.07 L117.95,610.07 L117.95,610.31 L119.75,610.31 L119.75,610.55 L121.54,610.55 L121.54,610.79 L123.34,610.79 L123.34,611.03 L125.13,611.03 L125.13,611.27 L126.92,611.27 L126.92,611.51 L128.64,611.51 L128.64,611.90 L130.35,611.90 L130.35,612.29 L132.07,612.29 L132.07,612.68 L133.78,612.68 L133.78,613.07 L135.89,613.07 L135.89,613.37 L137.99,613.37 L137.99,613.66 L140.10,613.66 L140.10,613.96 L142.20,613.96 L142.20,614.26 L144.02,614.26 L144.02,614.50 L145.85,614.50 L145.85,614.74 L147.67,614.74 L147.67,614.98 L149.72,614.98 L149.72,615.94 L151.78,615.94 L151.78,616.90 L153.83,616.90 L153.83,617.85 L155.63,617.85 L155.63,618.25 L157.42,618.25 L157.42,618.65 L159.21,618.65 L159.21,619.05 L161.35,619.05 L161.35,619.85 L163.49,619.85 L163.49,620.65 L165.64,620.65 L165.64,621.45 L167.37,621.45 L167.37,622.12 L169.11,622.12 L169.11,622.80 L170.84,622.80 L170.84,623.48 L173.10,623.48 L173.10,624.44 L175.36,624.44 L175.36,625.40 L177.66,625.40 L177.66,627.67 L179.96,627.67 L179.96,629.94 L181.84,629.94 L181.84,630.30 L183.72,630.30 L183.72,630.66 L185.60,630.66 L185.60,631.02 L187.57,631.02 L187.57,631.46 L189.53,631.46 L189.53,631.90 L191.50,631.90 L191.50,632.34 L193.28,632.34 L193.28,632.76 L195.06,632.76 L195.06,633.18 L196.84,633.18 L196.84,633.60 L198.62,633.60 L198.62,634.01 L200.31,634.01 L200.31,634.46 L202.01,634.46 L202.01,634.91 L203.70,634.91 L203.70,635.36 L205.39,635.36 L205.39,635.81 L207.30,635.81 L207.30,638.08 L229.61,638.08" fill="none" stroke="#b4c08c" stroke-width="1.4" stroke-linejoin="miter"/>
<line x1="221.17" y1="635.88" x2="221.17" y2="638.08" stroke="#b4c08c" stroke-width="0.9"/>
<line x1="226.31" y1="635.88" x2="226.31" y2="638.08" stroke="#b4c08c" stroke-width="0.9"/>
<line x1="214.37" y1="635.88" x2="214.37" y2="638.08" stroke="#b4c08c" stroke-width="0.9"/>
<line x1="214.10" y1="635.88" x2="214.10" y2="638.08" stroke="#b4c08c" stroke-width="0.9"/>
<line x1="222.63" y1="635.88" x2="222.63" y2="638.08" stroke="#b4c08c" stroke-width="0.9"/>
<line x1="221.28" y1="635.88" x2="221.28" y2="638.08" stroke="#b4c08c" stroke-width="0.9"/>
<line x1="214.94" y1="635.88" x2="214.94" y2="638.08" stroke="#b4c08c" stroke-width="0.9"/>
<path d="M55.40,559.80 L59.74,559.80 L59.74,567.46 L74.50,567.46 L74.50,573.80 L96.98,573.80 L96.98,580.03 L98.80,580.03 L98.80,586.25 L100.71,586.25 L100.71,595.35 L102.71,595.35 L102.71,603.73 L104.79,603.73 L104.79,610.79 L111.47,610.79 L111.47,618.81 L125.01,618.81 L125.01,626.95 L135.78,626.95 L135.78,640.36 L141.25,640.36 L141.25,649.81 L163.99,649.81 L163.99,664.66 L189.94,664.66" fill="none" stroke="#9a8fc6" stroke-width="1.4" stroke-linejoin="miter"/>
<line x1="55.87" y1="557.60" x2="55.87" y2="559.80" stroke="#9a8fc6" stroke-width="0.9"/>
<line x1="63.08" y1="565.26" x2="63.08" y2="567.46" stroke="#9a8fc6" stroke-width="0.9"/>
<line x1="77.05" y1="571.60" x2="77.05" y2="573.80" stroke="#9a8fc6" stroke-width="0.9"/>
<line x1="92.56" y1="571.60" x2="92.56" y2="573.80" stroke="#9a8fc6" stroke-width="0.9"/>
<line x1="123.66" y1="616.61" x2="123.66" y2="618.81" stroke="#9a8fc6" stroke-width="0.9"/>
<line x1="148.62" y1="647.61" x2="148.62" y2="649.81" stroke="#9a8fc6" stroke-width="0.9"/>
<line x1="171.33" y1="662.46" x2="171.33" y2="664.66" stroke="#9a8fc6" stroke-width="0.9"/>
<path d="M55.40,559.80 L75.36,559.80 L75.36,569.97 L88.21,569.97 L88.21,578.11 L95.76,578.11 L95.76,583.14 L97.50,583.14 L97.50,587.33 L102.71,587.33 L102.71,593.08 L108.09,593.08 L108.09,595.35 L124.58,595.35 L124.58,600.02 L125.71,600.02 L125.71,602.29 L150.01,602.29 L150.01,604.57 L170.84,604.57 L170.84,609.48 L181.26,609.48 L181.26,612.71 L225.01,612.71 L225.01,645.03 L228.48,645.03" fill="none" stroke="#254c3d" stroke-width="1.4" stroke-linejoin="miter"/>
<line x1="68.34" y1="557.60" x2="68.34" y2="559.80" stroke="#254c3d" stroke-width="0.9"/>
<line x1="68.32" y1="557.60" x2="68.32" y2="559.80" stroke="#254c3d" stroke-width="0.9"/>
<line x1="70.96" y1="557.60" x2="70.96" y2="559.80" stroke="#254c3d" stroke-width="0.9"/>
<line x1="79.02" y1="567.77" x2="79.02" y2="569.97" stroke="#254c3d" stroke-width="0.9"/>
<line x1="90.33" y1="575.91" x2="90.33" y2="578.11" stroke="#254c3d" stroke-width="0.9"/>
<line x1="98.56" y1="585.13" x2="98.56" y2="587.33" stroke="#254c3d" stroke-width="0.9"/>
<line x1="104.17" y1="590.88" x2="104.17" y2="593.08" stroke="#254c3d" stroke-width="0.9"/>
<line x1="115.43" y1="593.15" x2="115.43" y2="595.35" stroke="#254c3d" stroke-width="0.9"/>
<line x1="120.79" y1="593.15" x2="120.79" y2="595.35" stroke="#254c3d" stroke-width="0.9"/>
<line x1="128.42" y1="600.09" x2="128.42" y2="602.29" stroke="#254c3d" stroke-width="0.9"/>
<line x1="133.50" y1="600.09" x2="133.50" y2="602.29" stroke="#254c3d" stroke-width="0.9"/>
<line x1="130.99" y1="600.09" x2="130.99" y2="602.29" stroke="#254c3d" stroke-width="0.9"/>
<line x1="165.59" y1="602.37" x2="165.59" y2="604.57" stroke="#254c3d" stroke-width="0.9"/>
<line x1="165.53" y1="602.37" x2="165.53" y2="604.57" stroke="#254c3d" stroke-width="0.9"/>
<line x1="165.87" y1="602.37" x2="165.87" y2="604.57" stroke="#254c3d" stroke-width="0.9"/>
<line x1="179.80" y1="607.28" x2="179.80" y2="609.48" stroke="#254c3d" stroke-width="0.9"/>
<line x1="178.50" y1="607.28" x2="178.50" y2="609.48" stroke="#254c3d" stroke-width="0.9"/>
<line x1="215.38" y1="610.51" x2="215.38" y2="612.71" stroke="#254c3d" stroke-width="0.9"/>
<line x1="202.67" y1="610.51" x2="202.67" y2="612.71" stroke="#254c3d" stroke-width="0.9"/>
<line x1="212.06" y1="610.51" x2="212.06" y2="612.71" stroke="#254c3d" stroke-width="0.9"/>
<line x1="205.38" y1="610.51" x2="205.38" y2="612.71" stroke="#254c3d" stroke-width="0.9"/>
<line x1="200.67" y1="610.51" x2="200.67" y2="612.71" stroke="#254c3d" stroke-width="0.9"/>
<line x1="198.38" y1="610.51" x2="198.38" y2="612.71" stroke="#254c3d" stroke-width="0.9"/>
<path d="M55.40,559.80 L76.41,559.80 L76.41,563.75 L95.76,563.75 L95.76,568.06 L103.14,568.06 L103.14,572.49 L109.22,572.49 L109.22,576.56 L114.42,576.56 L114.42,581.35 L119.98,581.35 L119.98,582.66 L130.05,582.66 L130.05,589.61 L138.47,589.61 L138.47,595.35 L142.20,595.35 L142.20,597.15 L221.54,597.15" fill="none" stroke="#958d3a" stroke-width="1.4" stroke-linejoin="miter"/>
<line x1="66.91" y1="557.60" x2="66.91" y2="559.80" stroke="#958d3a" stroke-width="0.9"/>
<line x1="73.03" y1="557.60" x2="73.03" y2="559.80" stroke="#958d3a" stroke-width="0.9"/>
<line x1="65.33" y1="557.60" x2="65.33" y2="559.80" stroke="#958d3a" stroke-width="0.9"/>
<line x1="66.03" y1="557.60" x2="66.03" y2="559.80" stroke="#958d3a" stroke-width="0.9"/>
<line x1="81.20" y1="561.55" x2="81.20" y2="563.75" stroke="#958d3a" stroke-width="0.9"/>
<line x1="86.27" y1="561.55" x2="86.27" y2="563.75" stroke="#958d3a" stroke-width="0.9"/>
<line x1="88.10" y1="561.55" x2="88.10" y2="563.75" stroke="#958d3a" stroke-width="0.9"/>
<line x1="97.06" y1="565.86" x2="97.06" y2="568.06" stroke="#958d3a" stroke-width="0.9"/>
<line x1="98.29" y1="565.86" x2="98.29" y2="568.06" stroke="#958d3a" stroke-width="0.9"/>
<line x1="107.68" y1="570.29" x2="107.68" y2="572.49" stroke="#958d3a" stroke-width="0.9"/>
<line x1="109.91" y1="574.36" x2="109.91" y2="576.56" stroke="#958d3a" stroke-width="0.9"/>
<line x1="119.27" y1="579.15" x2="119.27" y2="581.35" stroke="#958d3a" stroke-width="0.9"/>
<line x1="125.94" y1="580.46" x2="125.94" y2="582.66" stroke="#958d3a" stroke-width="0.9"/>
<line x1="122.25" y1="580.46" x2="122.25" y2="582.66" stroke="#958d3a" stroke-width="0.9"/>
<line x1="134.45" y1="587.41" x2="134.45" y2="589.61" stroke="#958d3a" stroke-width="0.9"/>
<line x1="165.49" y1="594.95" x2="165.49" y2="597.15" stroke="#958d3a" stroke-width="0.9"/>
<line x1="152.04" y1="594.95" x2="152.04" y2="597.15" stroke="#958d3a" stroke-width="0.9"/>
<line x1="179.58" y1="594.95" x2="179.58" y2="597.15" stroke="#958d3a" stroke-width="0.9"/>
<line x1="178.09" y1="594.95" x2="178.09" y2="597.15" stroke="#958d3a" stroke-width="0.9"/>
<line x1="203.60" y1="594.95" x2="203.60" y2="597.15" stroke="#958d3a" stroke-width="0.9"/>
<line x1="183.08" y1="594.95" x2="183.08" y2="597.15" stroke="#958d3a" stroke-width="0.9"/>
<line x1="190.77" y1="594.95" x2="190.77" y2="597.15" stroke="#958d3a" stroke-width="0.9"/>
<line x1="181.85" y1="594.95" x2="181.85" y2="597.15" stroke="#958d3a" stroke-width="0.9"/>
<line x1="192.18" y1="594.95" x2="192.18" y2="597.15" stroke="#958d3a" stroke-width="0.9"/>
<line x1="179.16" y1="594.95" x2="179.16" y2="597.15" stroke="#958d3a" stroke-width="0.9"/>
<line x1="167.79" y1="594.95" x2="167.79" y2="597.15" stroke="#958d3a" stroke-width="0.9"/>
<line x1="213.45" y1="594.95" x2="213.45" y2="597.15" stroke="#958d3a" stroke-width="0.9"/>
<line x1="213.33" y1="594.95" x2="213.33" y2="597.15" stroke="#958d3a" stroke-width="0.9"/>
<path d="M55.40,559.80 L78.23,559.80 L78.23,570.57 L96.98,570.57 L96.98,573.09 L106.96,573.09 L106.96,578.71 L111.82,578.71 L111.82,581.35 L119.98,581.35 L119.98,583.74 L130.05,583.74 L130.05,590.92 L139.60,590.92 L139.60,596.55 L148.80,596.55 L148.80,604.57 L162.68,604.57 L162.68,608.16 L181.26,608.16 L181.26,616.18 L227.26,616.18" fill="none" stroke="#35214f" stroke-width="1.4" stroke-linejoin="miter"/>
<line x1="69.69" y1="557.60" x2="69.69" y2="559.80" stroke="#35214f" stroke-width="0.9"/>
<line x1="69.85" y1="557.60" x2="69.85" y2="559.80" stroke="#35214f" stroke-width="0.9"/>
<line x1="60.29" y1="557.60" x2="60.29" y2="559.80" stroke="#35214f" stroke-width="0.9"/>
<line x1="85.72" y1="568.37" x2="85.72" y2="570.57" stroke="#35214f" stroke-width="0.9"/>
<line x1="84.21" y1="568.37" x2="84.21" y2="570.57" stroke="#35214f" stroke-width="0.9"/>
<line x1="103.49" y1="570.89" x2="103.49" y2="573.09" stroke="#35214f" stroke-width="0.9"/>
<line x1="102.78" y1="570.89" x2="102.78" y2="573.09" stroke="#35214f" stroke-width="0.9"/>
<line x1="110.02" y1="576.51" x2="110.02" y2="578.71" stroke="#35214f" stroke-width="0.9"/>
<line x1="115.51" y1="579.15" x2="115.51" y2="581.35" stroke="#35214f" stroke-width="0.9"/>
<line x1="128.28" y1="581.54" x2="128.28" y2="583.74" stroke="#35214f" stroke-width="0.9"/>
<line x1="137.26" y1="588.72" x2="137.26" y2="590.92" stroke="#35214f" stroke-width="0.9"/>
<line x1="145.57" y1="594.35" x2="145.57" y2="596.55" stroke="#35214f" stroke-width="0.9"/>
<line x1="154.68" y1="602.37" x2="154.68" y2="604.57" stroke="#35214f" stroke-width="0.9"/>
<line x1="159.55" y1="602.37" x2="159.55" y2="604.57" stroke="#35214f" stroke-width="0.9"/>
<line x1="165.45" y1="605.96" x2="165.45" y2="608.16" stroke="#35214f" stroke-width="0.9"/>
<line x1="178.14" y1="605.96" x2="178.14" y2="608.16" stroke="#35214f" stroke-width="0.9"/>
<line x1="189.21" y1="613.98" x2="189.21" y2="616.18" stroke="#35214f" stroke-width="0.9"/>
<line x1="222.19" y1="613.98" x2="222.19" y2="616.18" stroke="#35214f" stroke-width="0.9"/>
<line x1="220.70" y1="613.98" x2="220.70" y2="616.18" stroke="#35214f" stroke-width="0.9"/>
<line x1="190.00" y1="613.98" x2="190.00" y2="616.18" stroke="#35214f" stroke-width="0.9"/>
<line x1="201.44" y1="613.98" x2="201.44" y2="616.18" stroke="#35214f" stroke-width="0.9"/>
<line x1="190.83" y1="613.98" x2="190.83" y2="616.18" stroke="#35214f" stroke-width="0.9"/>
<path d="M55.40,559.80 L59.57,559.80 L59.57,567.46 L62.60,567.46 L62.60,577.52 L63.91,577.52 L63.91,581.35 L64.95,581.35 L64.95,583.74 L66.34,583.74 L66.34,587.45 L67.12,587.45 L67.12,595.71 L67.64,595.71 L67.64,605.05 L68.42,605.05 L68.42,613.66 L69.81,613.66 L69.81,624.20 L87.34,624.20 L87.34,634.97 L102.88,634.97 L102.88,649.81 L163.99,649.81 L163.99,664.66 L204.70,664.66" fill="none" stroke="#d01a7a" stroke-width="1.4" stroke-linejoin="miter"/>
<line x1="77.83" y1="622.00" x2="77.83" y2="624.20" stroke="#d01a7a" stroke-width="0.9"/>
<line x1="97.07" y1="632.77" x2="97.07" y2="634.97" stroke="#d01a7a" stroke-width="0.9"/>
<line x1="140.03" y1="647.61" x2="140.03" y2="649.81" stroke="#d01a7a" stroke-width="0.9"/>
<line x1="109.49" y1="647.61" x2="109.49" y2="649.81" stroke="#d01a7a" stroke-width="0.9"/>
<line x1="123.76" y1="647.61" x2="123.76" y2="649.81" stroke="#d01a7a" stroke-width="0.9"/>
<line x1="172.68" y1="662.46" x2="172.68" y2="664.66" stroke="#d01a7a" stroke-width="0.9"/>
<line x1="192.27" y1="662.46" x2="192.27" y2="664.66" stroke="#d01a7a" stroke-width="0.9"/>
<path d="M55.40,559.80 L70.16,559.80 L70.16,565.78 L75.10,565.78 L75.10,571.29 L76.67,571.29 L76.67,583.74 L77.97,583.74 L77.97,588.53 L79.27,588.53 L79.27,592.48 L80.57,592.48 L80.57,597.51 L81.87,597.51 L81.87,610.79 L84.56,610.79 L84.56,616.18 L85.95,616.18 L85.95,624.20 L88.73,624.20 L88.73,632.34 L91.34,632.34 L91.34,643.11 L94.03,643.11 L94.03,649.81 L102.10,649.81 L102.10,656.04 L139.77,656.04 L139.77,664.66 L149.14,664.66 L149.14,672.20 L170.84,672.20 L170.84,679.50" fill="none" stroke="#1e2758" stroke-width="1.4" stroke-linejoin="miter"/>
<path d="M55.40,559.80 L59.74,560.28 L64.08,560.76 L72.76,562.19 L81.44,563.99 L90.12,566.38 L100.02,569.62 L107.48,571.77 L119.98,575.60 L126.92,577.75 L137.86,580.15 L153.83,583.50 L166.16,586.25 L180.83,589.84 L194.28,592.72 L207.73,595.71 L216.85,597.63 L224.66,598.58 L230.74,598.82" fill="none" stroke="#62a8dc" stroke-width="3.0" stroke-linecap="butt" stroke-linejoin="round"/>
<path d="M320.7,289.60 L320.7,407.5 L504.3,407.5" fill="none" stroke="#231f20" stroke-width="1.2"/>
<line x1="317.10" y1="378.62" x2="320.7" y2="378.62" stroke="#231f20" stroke-width="1"/>
<text x="312.90" y="381.62" font-size="8.2" text-anchor="end" fill="#231f20" color="#231f20" stroke-width="0.15" font-weight="normal" >25</text>
<line x1="317.10" y1="349.75" x2="320.7" y2="349.75" stroke="#231f20" stroke-width="1"/>
<text x="312.90" y="352.75" font-size="8.2" text-anchor="end" fill="#231f20" color="#231f20" stroke-width="0.15" font-weight="normal" >50</text>
<line x1="317.10" y1="320.88" x2="320.7" y2="320.88" stroke="#231f20" stroke-width="1"/>
<text x="312.90" y="323.88" font-size="8.2" text-anchor="end" fill="#231f20" color="#231f20" stroke-width="0.15" font-weight="normal" >75</text>
<line x1="317.10" y1="292.00" x2="320.7" y2="292.00" stroke="#231f20" stroke-width="1"/>
<text x="312.90" y="295.00" font-size="8.2" text-anchor="end" fill="#231f20" color="#231f20" stroke-width="0.15" font-weight="normal" >100</text>
<line x1="343.22" y1="407.5" x2="343.22" y2="410.70" stroke="#231f20" stroke-width="1"/>
<text x="343.22" y="421.40" font-size="8.3" text-anchor="middle" fill="#231f20" color="#231f20" stroke-width="0.15" font-weight="normal" >25</text>
<line x1="365.75" y1="407.5" x2="365.75" y2="410.70" stroke="#231f20" stroke-width="1"/>
<text x="365.75" y="421.40" font-size="8.3" text-anchor="middle" fill="#231f20" color="#231f20" stroke-width="0.15" font-weight="normal" >50</text>
<line x1="388.27" y1="407.5" x2="388.27" y2="410.70" stroke="#231f20" stroke-width="1"/>
<text x="388.27" y="421.40" font-size="8.3" text-anchor="middle" fill="#231f20" color="#231f20" stroke-width="0.15" font-weight="normal" >75</text>
<line x1="410.80" y1="407.5" x2="410.80" y2="410.70" stroke="#231f20" stroke-width="1"/>
<text x="410.80" y="421.40" font-size="8.3" text-anchor="middle" fill="#231f20" color="#231f20" stroke-width="0.15" font-weight="normal" >100</text>
<line x1="433.32" y1="407.5" x2="433.32" y2="410.70" stroke="#231f20" stroke-width="1"/>
<text x="433.32" y="421.40" font-size="8.3" text-anchor="middle" fill="#231f20" color="#231f20" stroke-width="0.15" font-weight="normal" >125</text>
<line x1="455.85" y1="407.5" x2="455.85" y2="410.70" stroke="#231f20" stroke-width="1"/>
<text x="455.85" y="421.40" font-size="8.3" text-anchor="middle" fill="#231f20" color="#231f20" stroke-width="0.15" font-weight="normal" >150</text>
<line x1="478.38" y1="407.5" x2="478.38" y2="410.70" stroke="#231f20" stroke-width="1"/>
<text x="478.38" y="421.40" font-size="8.3" text-anchor="middle" fill="#231f20" color="#231f20" stroke-width="0.15" font-weight="normal" >175</text>
<line x1="500.90" y1="407.5" x2="500.90" y2="410.70" stroke="#231f20" stroke-width="1"/>
<text x="500.90" y="421.40" font-size="8.3" text-anchor="middle" fill="#231f20" color="#231f20" stroke-width="0.15" font-weight="normal" >200</text>
<text x="311.50" y="421.40" font-size="8.3" text-anchor="middle" fill="#231f20" color="#231f20" stroke-width="0.15" font-weight="normal" >0</text>
<text x="426.9" y="435.4" font-size="10.4" text-anchor="middle" fill="#231f20" color="#231f20" stroke-width="0.15" font-weight="normal" textLength="30.3" lengthAdjust="spacingAndGlyphs">Months</text>
<text transform="translate(294.2,348.2) rotate(-90)" font-size="10.5" text-anchor="middle" fill="#231f20" color="#231f20" stroke-width="0.15" textLength="104.7" lengthAdjust="spacingAndGlyphs">OS after ACAS emergence</text>
<line x1="382.8" y1="257.30" x2="391.60" y2="257.30" stroke="#8e1232" stroke-width="1.5"/>
<line x1="387.20" y1="255.50" x2="387.20" y2="257.30" stroke="#8e1232" stroke-width="0.9"/>
<text x="394.9" y="259.20" font-size="8.02" text-anchor="start" fill="#231f20" color="#231f20" stroke-width="0.15" font-weight="normal" >Single ACAs,  group 1 (n = 101)</text>
<line x1="382.8" y1="269.23" x2="391.60" y2="269.23" stroke="#5d6d8e" stroke-width="1.5"/>
<line x1="387.20" y1="267.43" x2="387.20" y2="269.23" stroke="#5d6d8e" stroke-width="0.9"/>
<text x="394.9" y="271.13" font-size="8.02" text-anchor="start" fill="#231f20" color="#231f20" stroke-width="0.15" font-weight="normal" >2 ACAs (n = 105)</text>
<line x1="382.8" y1="281.16" x2="391.60" y2="281.16" stroke="#e9b37a" stroke-width="1.5"/>
<line x1="387.20" y1="279.36" x2="387.20" y2="281.16" stroke="#e9b37a" stroke-width="0.9"/>
<text x="394.9" y="283.06" font-size="8.02" text-anchor="start" fill="#231f20" color="#231f20" stroke-width="0.15" font-weight="normal" >&gt; 2 ACAs (n = 138)</text>
<line x1="382.8" y1="293.09" x2="391.60" y2="293.09" stroke="#8d5e2e" stroke-width="1.5"/>
<line x1="387.20" y1="291.29" x2="387.20" y2="293.09" stroke="#8d5e2e" stroke-width="0.9"/>
<text x="394.9" y="294.99" font-size="8.02" text-anchor="start" fill="#231f20" color="#231f20" stroke-width="0.15" font-weight="normal" >Single ACAs, group 2 (n = 54)</text>
<path d="M320.70,292.00 L322.50,292.00 L322.50,295.47 L324.21,295.47 L324.21,308.05 L325.48,308.05 L325.48,315.52 L326.74,315.52 L326.74,322.99 L328.00,322.99 L328.00,330.46 L329.26,330.46 L329.26,336.31 L330.52,336.31 L330.52,342.17 L331.78,342.17 L331.78,348.02 L333.01,348.02 L333.01,352.18 L334.25,352.18 L334.25,356.33 L335.48,356.33 L335.48,360.49 L336.78,360.49 L336.78,362.74 L338.09,362.74 L338.09,365.00 L339.26,365.00 L339.26,368.00 L340.52,368.00 L340.52,368.65 L341.78,368.65 L341.78,369.31 L343.04,369.31 L343.04,369.96 L344.20,369.96 L344.20,370.05 L345.35,370.05 L345.35,370.15 L346.50,370.15 L346.50,370.24 L347.66,370.24 L347.66,370.33 L348.81,370.33 L348.81,370.42 L350.16,370.42 L350.16,372.45 L351.51,372.45 L351.51,374.47 L375.84,374.47 L375.84,377.12 L402.69,377.12 L402.69,379.78 L428.28,379.78 L428.28,382.55 L455.22,382.55 L455.22,390.87 L467.56,390.87" fill="none" stroke="#e9b37a" stroke-width="1.4" stroke-linejoin="miter"/>
<line x1="372.41" y1="372.27" x2="372.41" y2="374.47" stroke="#e9b37a" stroke-width="0.9"/>
<line x1="371.32" y1="372.27" x2="371.32" y2="374.47" stroke="#e9b37a" stroke-width="0.9"/>
<line x1="355.57" y1="372.27" x2="355.57" y2="374.47" stroke="#e9b37a" stroke-width="0.9"/>
<line x1="365.47" y1="372.27" x2="365.47" y2="374.47" stroke="#e9b37a" stroke-width="0.9"/>
<line x1="389.91" y1="374.92" x2="389.91" y2="377.12" stroke="#e9b37a" stroke-width="0.9"/>
<line x1="381.33" y1="374.92" x2="381.33" y2="377.12" stroke="#e9b37a" stroke-width="0.9"/>
<line x1="382.65" y1="374.92" x2="382.65" y2="377.12" stroke="#e9b37a" stroke-width="0.9"/>
<line x1="388.08" y1="374.92" x2="388.08" y2="377.12" stroke="#e9b37a" stroke-width="0.9"/>
<line x1="414.56" y1="377.58" x2="414.56" y2="379.78" stroke="#e9b37a" stroke-width="0.9"/>
<line x1="405.76" y1="377.58" x2="405.76" y2="379.78" stroke="#e9b37a" stroke-width="0.9"/>
<line x1="407.01" y1="377.58" x2="407.01" y2="379.78" stroke="#e9b37a" stroke-width="0.9"/>
<line x1="419.78" y1="377.58" x2="419.78" y2="379.78" stroke="#e9b37a" stroke-width="0.9"/>
<line x1="442.02" y1="380.35" x2="442.02" y2="382.55" stroke="#e9b37a" stroke-width="0.9"/>
<line x1="446.80" y1="380.35" x2="446.80" y2="382.55" stroke="#e9b37a" stroke-width="0.9"/>
<line x1="438.71" y1="380.35" x2="438.71" y2="382.55" stroke="#e9b37a" stroke-width="0.9"/>
<line x1="432.21" y1="380.35" x2="432.21" y2="382.55" stroke="#e9b37a" stroke-width="0.9"/>
<line x1="462.27" y1="388.67" x2="462.27" y2="390.87" stroke="#e9b37a" stroke-width="0.9"/>
<line x1="462.95" y1="388.67" x2="462.95" y2="390.87" stroke="#e9b37a" stroke-width="0.9"/>
<path d="M320.70,292.00 L322.05,292.00 L322.05,294.31 L323.40,294.31 L323.40,296.62 L325.48,296.62 L325.48,308.05 L327.16,308.05 L327.16,313.02 L328.84,313.02 L328.84,317.99 L330.52,317.99 L330.52,322.95 L332.37,322.95 L332.37,329.25 L334.21,329.25 L334.21,335.54 L336.11,335.54 L336.11,341.15 L338.00,341.15 L338.00,346.75 L339.68,346.75 L339.68,347.98 L341.36,347.98 L341.36,349.21 L343.04,349.21 L343.04,350.44 L344.62,350.44 L344.62,353.68 L346.20,353.68 L346.20,356.91 L348.20,356.91 L348.20,357.58 L350.21,357.58 L350.21,358.24 L352.21,358.24 L352.21,358.90 L354.22,358.90 L354.22,359.57 L356.02,359.57 L356.02,360.03 L357.82,360.03 L357.82,360.49 L359.62,360.49 L359.62,360.95 L361.43,360.95 L361.43,361.42 L363.23,361.42 L363.23,361.88 L365.03,361.88 L365.03,362.34 L366.83,362.34 L366.83,362.78 L368.63,362.78 L368.63,363.23 L370.44,363.23 L370.44,363.67 L372.24,363.67 L372.24,364.11 L374.04,364.11 L374.04,364.55 L375.84,364.55 L375.84,365.00 L377.61,365.00 L377.61,365.67 L379.39,365.67 L379.39,366.34 L381.16,366.34 L381.16,367.02 L382.93,367.02 L382.93,367.69 L384.70,367.69 L384.70,368.36 L386.47,368.36 L386.47,369.04 L388.27,369.04 L388.27,369.92 L390.08,369.92 L390.08,370.81 L391.88,370.81 L391.88,371.69 L410.80,371.69 L410.80,374.47 L420.17,374.47 L420.17,378.51 L439.09,378.51 L439.09,382.32 L442.24,382.32 L442.24,387.75 L452.43,387.75 L452.43,394.56 L484.68,394.56" fill="none" stroke="#5d6d8e" stroke-width="1.4" stroke-linejoin="miter"/>
<line x1="395.90" y1="369.50" x2="395.90" y2="371.69" stroke="#5d6d8e" stroke-width="0.9"/>
<line x1="394.13" y1="369.50" x2="394.13" y2="371.69" stroke="#5d6d8e" stroke-width="0.9"/>
<line x1="408.89" y1="369.50" x2="408.89" y2="371.69" stroke="#5d6d8e" stroke-width="0.9"/>
<line x1="396.56" y1="369.50" x2="396.56" y2="371.69" stroke="#5d6d8e" stroke-width="0.9"/>
<line x1="416.62" y1="372.27" x2="416.62" y2="374.47" stroke="#5d6d8e" stroke-width="0.9"/>
<line x1="435.53" y1="376.31" x2="435.53" y2="378.51" stroke="#5d6d8e" stroke-width="0.9"/>
<line x1="425.57" y1="376.31" x2="425.57" y2="378.51" stroke="#5d6d8e" stroke-width="0.9"/>
<line x1="436.59" y1="376.31" x2="436.59" y2="378.51" stroke="#5d6d8e" stroke-width="0.9"/>
<line x1="450.85" y1="385.55" x2="450.85" y2="387.75" stroke="#5d6d8e" stroke-width="0.9"/>
<line x1="448.84" y1="385.55" x2="448.84" y2="387.75" stroke="#5d6d8e" stroke-width="0.9"/>
<line x1="473.92" y1="392.36" x2="473.92" y2="394.56" stroke="#5d6d8e" stroke-width="0.9"/>
<line x1="456.90" y1="392.36" x2="456.90" y2="394.56" stroke="#5d6d8e" stroke-width="0.9"/>
<line x1="478.40" y1="392.36" x2="478.40" y2="394.56" stroke="#5d6d8e" stroke-width="0.9"/>
<line x1="470.87" y1="392.36" x2="470.87" y2="394.56" stroke="#5d6d8e" stroke-width="0.9"/>
<line x1="463.67" y1="392.36" x2="463.67" y2="394.56" stroke="#5d6d8e" stroke-width="0.9"/>
<line x1="460.56" y1="392.36" x2="460.56" y2="394.56" stroke="#5d6d8e" stroke-width="0.9"/>
<path d="M320.70,292.00 L322.05,292.00 L322.05,293.73 L323.40,293.73 L323.40,295.47 L325.20,295.47 L325.20,303.55 L326.74,303.55 L326.74,313.02 L328.00,313.02 L328.00,318.03 L329.26,318.03 L329.26,323.03 L330.52,323.03 L330.52,328.04 L331.75,328.04 L331.75,333.04 L332.98,333.04 L332.98,338.05 L334.21,338.05 L334.21,343.05 L335.48,343.05 L335.48,346.36 L336.74,346.36 L336.74,349.67 L338.00,349.67 L338.00,352.98 L339.40,352.98 L339.40,356.28 L340.79,356.28 L340.79,359.57 L341.92,359.57 L341.92,361.30 L343.04,361.30 L343.04,363.03 L344.28,363.03 L344.28,364.69 L345.51,364.69 L345.51,366.34 L346.74,366.34 L346.74,368.00 L347.46,368.00 L347.46,373.08 L348.81,373.08 L348.81,375.31 L350.16,375.31 L350.16,377.55 L351.51,377.55 L351.51,379.78 L352.78,379.78 L352.78,381.51 L354.04,381.51 L354.04,383.25 L356.92,383.25 L356.92,385.21 L360.34,385.21 L360.34,387.87 L370.25,387.87 L370.25,390.64 L381.16,390.64 L381.16,393.29 L391.88,393.29 L391.88,395.95 L401.43,395.95 L401.43,398.72 L459.18,398.72" fill="none" stroke="#8d5e2e" stroke-width="1.4" stroke-linejoin="miter"/>
<line x1="357.76" y1="383.01" x2="357.76" y2="385.21" stroke="#8d5e2e" stroke-width="0.9"/>
<line x1="362.87" y1="385.67" x2="362.87" y2="387.87" stroke="#8d5e2e" stroke-width="0.9"/>
<line x1="372.15" y1="388.44" x2="372.15" y2="390.64" stroke="#8d5e2e" stroke-width="0.9"/>
<line x1="383.53" y1="391.09" x2="383.53" y2="393.29" stroke="#8d5e2e" stroke-width="0.9"/>
<line x1="398.37" y1="393.75" x2="398.37" y2="395.95" stroke="#8d5e2e" stroke-width="0.9"/>
<line x1="427.60" y1="396.52" x2="427.60" y2="398.72" stroke="#8d5e2e" stroke-width="0.9"/>
<line x1="447.21" y1="396.52" x2="447.21" y2="398.72" stroke="#8d5e2e" stroke-width="0.9"/>
<line x1="452.85" y1="396.52" x2="452.85" y2="398.72" stroke="#8d5e2e" stroke-width="0.9"/>
<path d="M320.70,292.00 L322.05,292.00 L322.05,292.58 L323.40,292.58 L323.40,293.15 L324.93,293.15 L324.93,294.35 L326.47,294.35 L326.47,295.54 L328.00,295.54 L328.00,296.74 L329.68,296.74 L329.68,298.43 L331.36,298.43 L331.36,300.12 L333.04,300.12 L333.04,301.82 L334.70,301.82 L334.70,303.47 L336.35,303.47 L336.35,305.13 L338.00,305.13 L338.00,306.78 L339.68,306.78 L339.68,308.02 L341.36,308.02 L341.36,309.25 L343.04,309.25 L343.04,310.48 L344.70,310.48 L344.70,311.33 L346.35,311.33 L346.35,312.17 L348.00,312.17 L348.00,313.02 L349.65,313.02 L349.65,314.68 L351.30,314.68 L351.30,316.33 L352.96,316.33 L352.96,317.99 L354.64,317.99 L354.64,319.26 L356.32,319.26 L356.32,320.53 L358.00,320.53 L358.00,321.80 L359.65,321.80 L359.65,323.03 L361.31,323.03 L361.31,324.26 L362.96,324.26 L362.96,325.50 L378.00,325.50 L378.00,329.31 L390.53,329.31 L390.53,332.66 L392.78,332.66 L392.78,334.27 L397.65,334.27 L397.65,336.70 L399.99,336.70 L399.99,337.97 L414.40,337.97 L414.40,339.36 L425.22,339.36 L425.22,340.28 L433.05,340.28 L433.05,343.74 L491.53,343.74" fill="none" stroke="#8e1232" stroke-width="1.4" stroke-linejoin="miter"/>
<line x1="372.76" y1="323.30" x2="372.76" y2="325.50" stroke="#8e1232" stroke-width="0.9"/>
<line x1="372.11" y1="323.30" x2="372.11" y2="325.50" stroke="#8e1232" stroke-width="0.9"/>
<line x1="370.23" y1="323.30" x2="370.23" y2="325.50" stroke="#8e1232" stroke-width="0.9"/>
<line x1="387.20" y1="327.11" x2="387.20" y2="329.31" stroke="#8e1232" stroke-width="0.9"/>
<line x1="387.35" y1="327.11" x2="387.35" y2="329.31" stroke="#8e1232" stroke-width="0.9"/>
<line x1="395.23" y1="332.07" x2="395.23" y2="334.27" stroke="#8e1232" stroke-width="0.9"/>
<line x1="401.47" y1="335.77" x2="401.47" y2="337.97" stroke="#8e1232" stroke-width="0.9"/>
<line x1="405.71" y1="335.77" x2="405.71" y2="337.97" stroke="#8e1232" stroke-width="0.9"/>
<line x1="408.18" y1="335.77" x2="408.18" y2="337.97" stroke="#8e1232" stroke-width="0.9"/>
<line x1="422.35" y1="337.16" x2="422.35" y2="339.36" stroke="#8e1232" stroke-width="0.9"/>
<line x1="417.49" y1="337.16" x2="417.49" y2="339.36" stroke="#8e1232" stroke-width="0.9"/>
<line x1="426.27" y1="338.08" x2="426.27" y2="340.28" stroke="#8e1232" stroke-width="0.9"/>
<line x1="473.46" y1="341.54" x2="473.46" y2="343.74" stroke="#8e1232" stroke-width="0.9"/>
<line x1="479.84" y1="341.54" x2="479.84" y2="343.74" stroke="#8e1232" stroke-width="0.9"/>
<line x1="467.71" y1="341.54" x2="467.71" y2="343.74" stroke="#8e1232" stroke-width="0.9"/>
<line x1="440.50" y1="341.54" x2="440.50" y2="343.74" stroke="#8e1232" stroke-width="0.9"/>
<line x1="454.29" y1="341.54" x2="454.29" y2="343.74" stroke="#8e1232" stroke-width="0.9"/>
<line x1="462.18" y1="341.54" x2="462.18" y2="343.74" stroke="#8e1232" stroke-width="0.9"/>
<line x1="444.32" y1="341.54" x2="444.32" y2="343.74" stroke="#8e1232" stroke-width="0.9"/>
<line x1="483.43" y1="341.54" x2="483.43" y2="343.74" stroke="#8e1232" stroke-width="0.9"/>
<line x1="456.14" y1="341.54" x2="456.14" y2="343.74" stroke="#8e1232" stroke-width="0.9"/>
<line x1="446.14" y1="341.54" x2="446.14" y2="343.74" stroke="#8e1232" stroke-width="0.9"/>
<line x1="477.15" y1="341.54" x2="477.15" y2="343.74" stroke="#8e1232" stroke-width="0.9"/>
<line x1="444.74" y1="341.54" x2="444.74" y2="343.74" stroke="#8e1232" stroke-width="0.9"/>
<line x1="482.31" y1="341.54" x2="482.31" y2="343.74" stroke="#8e1232" stroke-width="0.9"/>
<path d="M320.6,550.90 L320.6,679.6 L512.5,679.6" fill="none" stroke="#231f20" stroke-width="1.2"/>
<line x1="317.00" y1="648.02" x2="320.6" y2="648.02" stroke="#231f20" stroke-width="1"/>
<text x="312.80" y="651.02" font-size="8.2" text-anchor="end" fill="#231f20" color="#231f20" stroke-width="0.15" font-weight="normal" >25</text>
<line x1="317.00" y1="616.45" x2="320.6" y2="616.45" stroke="#231f20" stroke-width="1"/>
<text x="312.80" y="619.45" font-size="8.2" text-anchor="end" fill="#231f20" color="#231f20" stroke-width="0.15" font-weight="normal" >50</text>
<line x1="317.00" y1="584.88" x2="320.6" y2="584.88" stroke="#231f20" stroke-width="1"/>
<text x="312.80" y="587.88" font-size="8.2" text-anchor="end" fill="#231f20" color="#231f20" stroke-width="0.15" font-weight="normal" >75</text>
<line x1="317.00" y1="553.30" x2="320.6" y2="553.30" stroke="#231f20" stroke-width="1"/>
<text x="312.80" y="556.30" font-size="8.2" text-anchor="end" fill="#231f20" color="#231f20" stroke-width="0.15" font-weight="normal" >100</text>
<line x1="343.38" y1="679.6" x2="343.38" y2="682.80" stroke="#231f20" stroke-width="1"/>
<text x="343.38" y="693.50" font-size="8.3" text-anchor="middle" fill="#231f20" color="#231f20" stroke-width="0.15" font-weight="normal" >25</text>
<line x1="366.15" y1="679.6" x2="366.15" y2="682.80" stroke="#231f20" stroke-width="1"/>
<text x="366.15" y="693.50" font-size="8.3" text-anchor="middle" fill="#231f20" color="#231f20" stroke-width="0.15" font-weight="normal" >50</text>
<line x1="388.93" y1="679.6" x2="388.93" y2="682.80" stroke="#231f20" stroke-width="1"/>
<text x="388.93" y="693.50" font-size="8.3" text-anchor="middle" fill="#231f20" color="#231f20" stroke-width="0.15" font-weight="normal" >75</text>
<line x1="411.70" y1="679.6" x2="411.70" y2="682.80" stroke="#231f20" stroke-width="1"/>
<text x="411.70" y="693.50" font-size="8.3" text-anchor="middle" fill="#231f20" color="#231f20" stroke-width="0.15" font-weight="normal" >100</text>
<line x1="434.48" y1="679.6" x2="434.48" y2="682.80" stroke="#231f20" stroke-width="1"/>
<text x="434.48" y="693.50" font-size="8.3" text-anchor="middle" fill="#231f20" color="#231f20" stroke-width="0.15" font-weight="normal" >125</text>
<line x1="457.25" y1="679.6" x2="457.25" y2="682.80" stroke="#231f20" stroke-width="1"/>
<text x="457.25" y="693.50" font-size="8.3" text-anchor="middle" fill="#231f20" color="#231f20" stroke-width="0.15" font-weight="normal" >150</text>
<line x1="480.03" y1="679.6" x2="480.03" y2="682.80" stroke="#231f20" stroke-width="1"/>
<text x="480.03" y="693.50" font-size="8.3" text-anchor="middle" fill="#231f20" color="#231f20" stroke-width="0.15" font-weight="normal" >175</text>
<line x1="502.80" y1="679.6" x2="502.80" y2="682.80" stroke="#231f20" stroke-width="1"/>
<text x="502.80" y="693.50" font-size="8.3" text-anchor="middle" fill="#231f20" color="#231f20" stroke-width="0.15" font-weight="normal" >200</text>
<text x="311.50" y="693.50" font-size="8.3" text-anchor="middle" fill="#231f20" color="#231f20" stroke-width="0.15" font-weight="normal" >0</text>
<text x="416.5" y="707.7" font-size="10.4" text-anchor="middle" fill="#231f20" color="#231f20" stroke-width="0.15" font-weight="normal" textLength="30.3" lengthAdjust="spacingAndGlyphs">Months</text>
<text transform="translate(294.5,613.1) rotate(-90)" font-size="10.5" text-anchor="middle" fill="#231f20" color="#231f20" stroke-width="0.15" textLength="93.1" lengthAdjust="spacingAndGlyphs">OS after CMLdiagnosis</text>
<line x1="389.8" y1="506.20" x2="398.60" y2="506.20" stroke="#62a8dc" stroke-width="1.5"/>
<line x1="394.20" y1="504.40" x2="394.20" y2="506.20" stroke="#62a8dc" stroke-width="0.9"/>
<text x="402.1" y="508.10" font-size="8.02" text-anchor="start" fill="#231f20" color="#231f20" stroke-width="0.15" font-weight="normal" >No ACAs (n = 1405)</text>
<line x1="389.8" y1="518.15" x2="398.60" y2="518.15" stroke="#8e1232" stroke-width="1.5"/>
<line x1="394.20" y1="516.35" x2="394.20" y2="518.15" stroke="#8e1232" stroke-width="0.9"/>
<text x="402.1" y="520.05" font-size="8.02" text-anchor="start" fill="#231f20" color="#231f20" stroke-width="0.15" font-weight="normal" >Single ACAs,  group 1 (n =101)</text>
<line x1="389.8" y1="530.10" x2="398.60" y2="530.10" stroke="#5d6d8e" stroke-width="1.5"/>
<line x1="394.20" y1="528.30" x2="394.20" y2="530.10" stroke="#5d6d8e" stroke-width="0.9"/>
<text x="402.1" y="532.00" font-size="8.02" text-anchor="start" fill="#231f20" color="#231f20" stroke-width="0.15" font-weight="normal" >2 ACAs (n = 105)</text>
<line x1="389.8" y1="542.05" x2="398.60" y2="542.05" stroke="#e9b37a" stroke-width="1.5"/>
<line x1="394.20" y1="540.25" x2="394.20" y2="542.05" stroke="#e9b37a" stroke-width="0.9"/>
<text x="402.1" y="543.95" font-size="8.02" text-anchor="start" fill="#231f20" color="#231f20" stroke-width="0.15" font-weight="normal" >&gt; 2 ACAs (n =138)</text>
<line x1="389.8" y1="554.00" x2="398.60" y2="554.00" stroke="#8d5e2e" stroke-width="1.5"/>
<line x1="394.20" y1="552.20" x2="394.20" y2="554.00" stroke="#8d5e2e" stroke-width="0.9"/>
<text x="402.1" y="555.90" font-size="8.02" text-anchor="start" fill="#231f20" color="#231f20" stroke-width="0.15" font-weight="normal" >Single ACAs, group 2 (n = 54)</text>
<path d="M320.60,553.30 L329.71,554.18 L343.01,556.71 L357.04,560.25 L367.97,564.29 L379.82,568.08 L393.02,571.74 L405.32,574.39 L417.99,576.79 L430.01,579.82 L447.96,584.12 L462.72,588.03 L479.02,591.19 L487.22,594.22 L505.99,594.47" fill="none" stroke="#62a8dc" stroke-width="3.0" stroke-linecap="butt" stroke-linejoin="round"/>
<path d="M320.60,553.30 L322.88,553.30 L322.88,553.93 L325.16,553.93 L325.16,554.56 L326.52,554.56 L326.52,556.46 L327.89,556.46 L327.89,558.35 L329.71,558.35 L329.71,562.14 L331.53,562.14 L331.53,565.93 L333.40,565.93 L333.40,569.53 L335.27,569.53 L335.27,573.13 L337.21,573.13 L337.21,578.14 L339.15,578.14 L339.15,583.15 L341.10,583.15 L341.10,588.16 L343.01,588.16 L343.01,590.43 L344.92,590.43 L344.92,592.71 L346.84,592.71 L346.84,594.98 L348.75,594.98 L348.75,598.05 L350.66,598.05 L350.66,601.13 L352.58,601.13 L352.58,604.20 L354.52,604.20 L354.52,606.89 L356.46,606.89 L356.46,609.59 L358.41,609.59 L358.41,612.28 L360.55,612.28 L360.55,613.92 L362.69,613.92 L362.69,615.57 L364.69,615.57 L364.69,616.26 L366.70,616.26 L366.70,616.96 L368.70,616.96 L368.70,617.65 L370.71,617.65 L370.71,618.34 L372.73,618.34 L372.73,619.01 L374.76,619.01 L374.76,619.67 L376.79,619.67 L376.79,620.33 L378.81,620.33 L378.81,621.00 L380.61,621.00 L380.61,621.45 L382.42,621.45 L382.42,621.89 L384.22,621.89 L384.22,622.34 L386.02,622.34 L386.02,622.79 L387.82,622.79 L387.82,623.24 L389.62,623.24 L389.62,623.69 L391.43,623.69 L391.43,624.14 L393.23,624.14 L393.23,624.59 L395.03,624.59 L395.03,625.04 L396.82,625.04 L396.82,626.03 L398.61,626.03 L398.61,627.02 L400.40,627.02 L400.40,628.01 L402.20,628.01 L402.20,629.00 L403.99,629.00 L403.99,629.99 L405.78,629.99 L405.78,630.97 L407.69,630.97 L407.69,631.64 L409.60,631.64 L409.60,632.31 L411.52,632.31 L411.52,632.98 L413.43,632.98 L413.43,633.64 L415.34,633.64 L415.34,634.31 L417.26,634.31 L417.26,634.98 L419.17,634.98 L419.17,635.65 L421.10,635.65 L421.10,636.30 L423.02,636.30 L423.02,636.95 L424.95,636.95 L424.95,637.60 L426.87,637.60 L426.87,638.25 L428.80,638.25 L428.80,638.90 L430.73,638.90 L430.73,639.54 L432.65,639.54 L432.65,640.19 L434.46,640.19 L434.46,640.62 L436.27,640.62 L436.27,641.04 L438.07,641.04 L438.07,641.46 L439.88,641.46 L439.88,641.88 L441.69,641.88 L441.69,642.30 L443.49,642.30 L443.49,642.72 L445.29,642.72 L445.29,643.35 L447.08,643.35 L447.08,643.98 L448.87,643.98 L448.87,644.61 L450.66,644.61 L450.66,645.25 L452.45,645.25 L452.45,645.88 L454.24,645.88 L454.24,646.51 L456.16,646.51 L456.16,650.05 L457.61,650.05 L457.61,652.13 L459.07,652.13 L459.07,654.21 L469.18,654.21 L469.18,658.26 L481.48,658.26 L481.48,664.82 L490.50,664.82 L490.50,672.15 L492.87,672.15 L492.87,678.97" fill="none" stroke="#e9b37a" stroke-width="1.4" stroke-linejoin="miter"/>
<line x1="465.20" y1="652.01" x2="465.20" y2="654.21" stroke="#e9b37a" stroke-width="0.9"/>
<line x1="473.14" y1="656.06" x2="473.14" y2="658.26" stroke="#e9b37a" stroke-width="0.9"/>
<line x1="476.83" y1="656.06" x2="476.83" y2="658.26" stroke="#e9b37a" stroke-width="0.9"/>
<line x1="488.94" y1="662.62" x2="488.94" y2="664.82" stroke="#e9b37a" stroke-width="0.9"/>
<path d="M320.60,553.30 L322.88,553.30 L322.88,553.93 L325.16,553.93 L325.16,554.56 L327.43,554.56 L327.43,557.09 L329.71,557.09 L329.71,559.62 L331.53,559.62 L331.53,562.77 L333.35,562.77 L333.35,565.93 L335.18,565.93 L335.18,567.32 L337.00,567.32 L337.00,570.73 L338.82,570.73 L338.82,574.14 L340.51,574.14 L340.51,575.91 L342.19,575.91 L342.19,577.68 L343.97,577.68 L343.97,582.29 L345.74,582.29 L345.74,586.90 L348.02,586.90 L348.02,591.57 L350.30,591.57 L350.30,596.24 L352.58,596.24 L352.58,603.82 L354.16,603.82 L354.16,605.50 L355.73,605.50 L355.73,607.19 L357.31,607.19 L357.31,608.87 L359.00,608.87 L359.00,609.12 L360.68,609.12 L360.68,609.38 L362.53,609.38 L362.53,609.57 L364.37,609.57 L364.37,609.76 L366.22,609.76 L366.22,609.95 L368.06,609.95 L368.06,610.13 L369.85,610.13 L369.85,610.81 L371.65,610.81 L371.65,611.48 L373.44,611.48 L373.44,612.16 L375.23,612.16 L375.23,612.83 L377.02,612.83 L377.02,613.50 L378.81,613.50 L378.81,614.18 L380.60,614.18 L380.60,614.87 L382.40,614.87 L382.40,615.57 L384.19,615.57 L384.19,616.26 L385.98,616.26 L385.98,616.96 L387.77,616.96 L387.77,617.65 L389.56,617.65 L389.56,618.34 L391.59,618.34 L391.59,619.01 L393.62,619.01 L393.62,619.67 L395.64,619.67 L395.64,620.33 L397.67,620.33 L397.67,621.00 L399.49,621.00 L399.49,622.76 L401.31,622.76 L401.31,624.53 L403.14,624.53 L403.14,626.30 L404.92,626.30 L404.92,626.46 L406.70,626.46 L406.70,626.61 L408.48,626.61 L408.48,626.76 L410.26,626.76 L410.26,626.92 L412.04,626.92 L412.04,627.07 L413.83,627.07 L413.83,627.23 L415.61,627.23 L415.61,627.38 L417.39,627.38 L417.39,627.54 L419.17,627.54 L419.17,627.69 L420.97,627.69 L420.97,627.93 L422.77,627.93 L422.77,628.17 L424.58,628.17 L424.58,628.41 L426.38,628.41 L426.38,628.64 L428.18,628.64 L428.18,628.88 L429.98,628.88 L429.98,629.12 L431.78,629.12 L431.78,629.36 L433.58,629.36 L433.58,629.60 L435.39,629.60 L435.39,629.84 L437.21,629.84 L437.21,631.98 L439.03,631.98 L439.03,634.13 L441.26,634.13 L441.26,636.34 L443.49,636.34 L443.49,638.55 L445.50,638.55 L445.50,640.23 L447.50,640.23 L447.50,641.90 L449.51,641.90 L449.51,643.57 L451.51,643.57 L451.51,645.25 L453.30,645.25 L453.30,647.48 L455.09,647.48 L455.09,649.71 L456.89,649.71 L456.89,651.94 L458.53,651.94 L458.53,655.92 L460.17,655.92 L460.17,659.90 L478.20,659.90 L478.20,669.75 L486.40,669.75" fill="none" stroke="#5d6d8e" stroke-width="1.4" stroke-linejoin="miter"/>
<line x1="465.05" y1="657.70" x2="465.05" y2="659.90" stroke="#5d6d8e" stroke-width="0.9"/>
<line x1="466.34" y1="657.70" x2="466.34" y2="659.90" stroke="#5d6d8e" stroke-width="0.9"/>
<line x1="482.28" y1="667.55" x2="482.28" y2="669.75" stroke="#5d6d8e" stroke-width="0.9"/>
<path d="M320.60,553.30 L322.12,553.30 L322.12,553.72 L323.64,553.72 L323.64,554.14 L325.16,554.14 L325.16,554.56 L326.67,554.56 L326.67,556.25 L328.19,556.25 L328.19,557.93 L329.71,557.93 L329.71,559.62 L331.53,559.62 L331.53,562.77 L333.35,562.77 L333.35,565.93 L335.18,565.93 L335.18,567.32 L337.00,567.32 L337.00,570.73 L338.82,570.73 L338.82,574.14 L340.51,574.14 L340.51,575.91 L342.19,575.91 L342.19,577.68 L343.97,577.68 L343.97,582.29 L345.74,582.29 L345.74,586.90 L347.26,586.90 L347.26,588.41 L348.78,588.41 L348.78,589.93 L350.30,589.93 L350.30,591.44 L352.58,591.44 L352.58,598.39 L354.12,598.39 L354.12,600.70 L355.67,600.70 L355.67,603.02 L357.22,603.02 L357.22,605.34 L358.74,605.34 L358.74,608.03 L360.26,608.03 L360.26,610.72 L361.78,610.72 L361.78,613.42 L363.05,613.42 L363.05,616.20 L364.33,616.20 L364.33,618.98 L366.20,618.98 L366.20,622.64 L368.06,622.64 L368.06,626.30 L369.89,626.30 L369.89,629.92 L371.71,629.92 L371.71,633.54 L373.53,633.54 L373.53,637.16 L378.81,637.16 L378.81,639.82 L392.30,639.82 L392.30,642.47 L405.78,642.47 L405.78,647.90 L408.97,647.90 L408.97,654.59 L419.17,654.59 L419.17,657.24 L434.02,657.24 L434.02,668.11 L440.76,668.11 L440.76,670.00 L479.02,670.00" fill="none" stroke="#8d5e2e" stroke-width="1.4" stroke-linejoin="miter"/>
<line x1="389.26" y1="637.62" x2="389.26" y2="639.82" stroke="#8d5e2e" stroke-width="0.9"/>
<line x1="403.16" y1="640.27" x2="403.16" y2="642.47" stroke="#8d5e2e" stroke-width="0.9"/>
<line x1="413.45" y1="652.39" x2="413.45" y2="654.59" stroke="#8d5e2e" stroke-width="0.9"/>
<line x1="421.78" y1="655.04" x2="421.78" y2="657.24" stroke="#8d5e2e" stroke-width="0.9"/>
<line x1="452.98" y1="667.80" x2="452.98" y2="670.00" stroke="#8d5e2e" stroke-width="0.9"/>
<line x1="463.28" y1="667.80" x2="463.28" y2="670.00" stroke="#8d5e2e" stroke-width="0.9"/>
<path d="M320.60,553.30 L322.42,553.30 L322.42,553.22 L324.24,553.22 L324.24,553.15 L326.07,553.15 L326.07,553.07 L327.89,553.07 L327.89,553.00 L329.71,553.00 L329.71,552.92 L331.56,552.92 L331.56,552.92 L333.41,552.92 L333.41,552.92 L335.27,552.92 L335.27,552.92 L337.00,552.92 L337.00,555.19 L339.05,555.19 L339.05,556.08 L341.10,556.08 L341.10,556.96 L342.65,556.96 L342.65,558.31 L344.19,558.31 L344.19,559.66 L345.74,559.66 L345.74,561.00 L347.75,561.00 L347.75,561.57 L349.75,561.57 L349.75,562.14 L351.45,562.14 L351.45,562.90 L353.15,562.90 L353.15,563.66 L354.85,563.66 L354.85,564.41 L356.74,564.41 L356.74,564.79 L358.62,564.79 L358.62,565.17 L360.50,565.17 L360.50,565.55 L362.28,565.55 L362.28,567.00 L364.05,567.00 L364.05,568.46 L366.01,568.46 L366.01,569.47 L367.97,569.47 L367.97,570.48 L369.79,570.48 L369.79,571.70 L371.62,571.70 L371.62,572.92 L373.44,572.92 L373.44,574.14 L375.72,574.14 L375.72,575.47 L377.99,575.47 L377.99,576.79 L379.78,576.79 L379.78,577.50 L381.56,577.50 L381.56,578.20 L383.34,578.20 L383.34,578.90 L385.12,578.90 L385.12,579.61 L386.91,579.61 L386.91,580.31 L388.69,580.31 L388.69,581.01 L390.47,581.01 L390.47,581.72 L392.14,581.72 L392.14,582.56 L393.81,582.56 L393.81,583.40 L395.48,583.40 L395.48,584.24 L397.15,584.24 L397.15,585.09 L398.82,585.09 L398.82,585.93 L400.49,585.93 L400.49,586.77 L402.28,586.77 L402.28,587.83 L404.06,587.83 L404.06,588.90 L405.84,588.90 L405.84,589.96 L407.63,589.96 L407.63,591.03 L409.41,591.03 L409.41,592.09 L411.19,592.09 L411.19,593.16 L412.98,593.16 L412.98,594.22 L414.76,594.22 L414.76,594.71 L416.55,594.71 L416.55,595.20 L418.34,595.20 L418.34,595.69 L420.13,595.69 L420.13,596.18 L421.91,596.18 L421.91,596.67 L423.70,596.67 L423.70,597.16 L425.49,597.16 L425.49,597.65 L427.28,597.65 L427.28,598.14 L429.28,598.14 L429.28,598.30 L431.29,598.30 L431.29,598.47 L433.29,598.47 L433.29,598.64 L435.32,598.64 L435.32,599.02 L437.34,599.02 L437.34,599.40 L439.37,599.40 L439.37,599.78 L441.40,599.78 L441.40,600.16 L443.31,600.16 L443.31,600.58 L445.22,600.58 L445.22,601.00 L447.14,601.00 L447.14,601.42 L449.05,601.42 L449.05,601.84 L450.96,601.84 L450.96,602.26 L452.88,602.26 L452.88,602.68 L454.52,602.68 L454.52,605.97 L497.79,605.97 L497.79,630.22 L503.62,630.22" fill="none" stroke="#8e1232" stroke-width="1.4" stroke-linejoin="miter"/>
<line x1="462.74" y1="603.77" x2="462.74" y2="605.97" stroke="#8e1232" stroke-width="0.9"/>
<line x1="472.44" y1="603.77" x2="472.44" y2="605.97" stroke="#8e1232" stroke-width="0.9"/>
<line x1="482.52" y1="603.77" x2="482.52" y2="605.97" stroke="#8e1232" stroke-width="0.9"/>
<line x1="463.65" y1="603.77" x2="463.65" y2="605.97" stroke="#8e1232" stroke-width="0.9"/>
<line x1="462.74" y1="603.77" x2="462.74" y2="605.97" stroke="#8e1232" stroke-width="0.9"/>
<line x1="466.87" y1="603.77" x2="466.87" y2="605.97" stroke="#8e1232" stroke-width="0.9"/>
<line x1="485.07" y1="603.77" x2="485.07" y2="605.97" stroke="#8e1232" stroke-width="0.9"/>
<line x1="501.83" y1="628.02" x2="501.83" y2="630.22" stroke="#8e1232" stroke-width="0.9"/>
<text x="98.4" y="16.7" font-size="12.6" text-anchor="middle" fill="#000" color="#000" stroke-width="0" font-weight="bold" >A</text>
<text x="11.9" y="210.1" font-size="12.6" text-anchor="middle" fill="#000" color="#000" stroke-width="0" font-weight="bold" >B</text>
<text x="11.9" y="463.5" font-size="12.6" text-anchor="middle" fill="#000" color="#000" stroke-width="0" font-weight="bold" >C</text>
<text x="277.1" y="210.1" font-size="12.6" text-anchor="middle" fill="#000" color="#000" stroke-width="0" font-weight="bold" >D</text>
<text x="276.8" y="463.2" font-size="12.6" text-anchor="middle" fill="#000" color="#000" stroke-width="0" font-weight="bold" >E</text>
<rect x="0.5" y="0.5" width="519" height="714" fill="none" stroke="#141414" stroke-width="1"/>
</svg>
</body></html>
